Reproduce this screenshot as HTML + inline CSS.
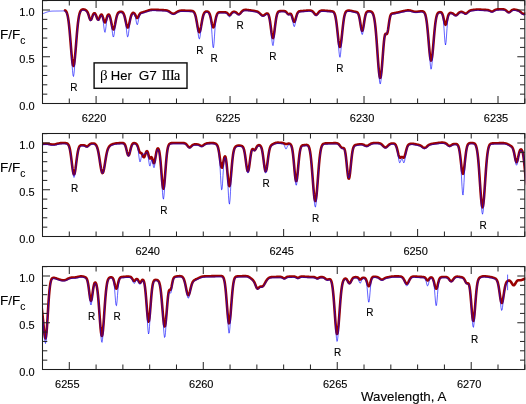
<!DOCTYPE html>
<html><head><meta charset="utf-8"><style>
html,body{margin:0;padding:0;background:#fff;}
body{width:526px;height:404px;overflow:hidden;}
svg{display:block;}
svg text{-webkit-font-smoothing:antialiased;stroke:#000;stroke-width:0.12px;}
.wrap{opacity:0.999;will-change:transform;}
</style></head><body><div class="wrap">
<svg width="526" height="404" viewBox="0 0 526 404" font-family='"Liberation Sans", sans-serif'>
<rect width="526" height="404" fill="#fff"/>
<defs>
<clipPath id="c0"><rect x="42.5" y="0" width="482.80" height="104"/></clipPath>
<clipPath id="c1"><rect x="42.5" y="133" width="482.80" height="104"/></clipPath>
<clipPath id="c2"><rect x="42.5" y="266" width="482.80" height="104"/></clipPath>
</defs>
<g clip-path="url(#c0)" fill="none" stroke-linejoin="round" stroke-linecap="round">
<path d="M65.00,10.38 L65.50,10.70 L66.00,11.22 L66.50,12.04 L67.00,13.27 L67.50,15.03 L68.00,17.46 L68.50,20.68 L69.00,24.74 L69.50,29.64 L70.00,35.27 L70.50,41.40 L71.00,47.69 L71.50,53.70 L72.00,58.96 L72.50,62.98 L73.00,65.40 L73.50,65.96 L74.00,64.61 L74.50,61.48 L75.00,56.89 L75.50,51.24 L76.00,45.03 L76.50,38.73 L77.00,32.73 L77.50,27.33 L78.00,22.73 L78.50,18.97 L79.00,16.03 L79.50,13.83 L80.00,12.24 L80.50,11.13 L81.00,10.39 L81.50,9.91 L82.00,9.62 L82.50,9.46 L83.00,9.40 L83.50,9.41 L84.00,9.49 L84.50,9.62 L85.00,9.80 L85.50,10.03 L86.00,10.33 L86.50,10.74 L87.00,11.31 L87.50,12.14 L88.00,13.28 L88.50,14.73 L89.00,16.40 L89.50,18.04 L90.00,19.33 L90.50,19.97 L91.00,19.82 L91.50,18.95 L92.00,17.61 L92.50,16.14 L93.00,14.83 L93.50,13.87 L94.00,13.32 L94.50,13.20 L95.00,13.48 L95.50,14.18 L96.00,15.24 L96.50,16.57 L97.00,17.95 L97.50,19.10 L98.00,19.73 L98.50,19.69 L99.00,18.98 L99.50,17.83 L100.00,16.54 L100.50,15.41 L101.00,14.69 L101.50,14.52 L102.00,14.97 L102.50,16.03 L103.00,17.58 L103.50,19.37 L104.00,21.04 L104.50,22.18 L105.00,22.49 L105.50,21.87 L106.00,20.52 L106.50,18.79 L107.00,17.08 L107.50,15.69 L108.00,14.81 L108.50,14.50 L109.00,14.74 L109.50,15.54 L110.00,16.89 L110.50,18.75 L111.00,21.03 L111.50,23.53 L112.00,25.96 L112.50,27.96 L113.00,29.21 L113.50,29.47 L114.00,28.68 L114.50,26.98 L115.00,24.66 L115.50,22.05 L116.00,19.49 L116.50,17.24 L117.00,15.44 L117.50,14.09 L118.00,13.17 L118.50,12.57 L119.00,12.20 L119.50,11.99 L120.00,11.87 L120.50,11.81 L121.00,11.81 L121.50,11.86 L122.00,12.00 L122.50,12.26 L123.00,12.73 L123.50,13.48 L124.00,14.60 L124.50,16.15 L125.00,18.11 L125.50,20.39 L126.00,22.77 L126.50,24.96 L127.00,26.63 L127.50,27.51 L128.00,27.44 L128.50,26.45 L129.00,24.70 L129.50,22.51 L130.00,20.18 L130.50,18.02 L131.00,16.19 L131.50,14.79 L132.00,13.81 L132.50,13.20 L133.00,12.90 L133.50,12.85 L134.00,13.07 L134.50,13.56 L135.00,14.36 L135.50,15.39 L136.00,16.52 L136.50,17.48 L137.00,18.04 L137.50,18.01 L138.00,17.43 L138.50,16.48 L139.00,15.40 L139.50,14.44 L140.00,13.70 L140.50,13.20 L141.00,12.88 L141.50,12.68 L142.00,12.52 L142.50,12.39 L143.00,12.25 L143.50,12.11 L144.00,11.96 L144.50,11.80 L145.00,11.63 L145.50,11.47 L146.00,11.30 L146.50,11.13 L147.00,10.97 L147.50,10.80 L148.00,10.64 L148.50,10.49 L149.00,10.34 L149.50,10.21 L150.00,10.09 L150.50,9.99 L151.00,9.90 L151.50,9.84 L152.00,9.79 L152.50,9.76 L153.00,9.75 L153.50,9.75 L154.00,9.75 L154.50,9.76 L155.00,9.78 L155.50,9.80 L156.00,9.82 L156.50,9.84 L157.00,9.86 L157.50,9.88 L158.00,9.90 L158.50,9.92 L159.00,9.94 L159.50,9.96 L160.00,9.99 L160.50,10.01 L161.00,10.03 L161.50,10.05 L162.00,10.07 L162.50,10.10 L163.00,10.12 L163.50,10.15 L164.00,10.18 L164.50,10.21 L165.00,10.25 L165.50,10.31 L166.00,10.38 L166.50,10.48 L167.00,10.60 L167.50,10.76 L168.00,10.96 L168.50,11.20 L169.00,11.47 L169.50,11.78 L170.00,12.12 L170.50,12.47 L171.00,12.81 L171.50,13.11 L172.00,13.38 L172.50,13.57 L173.00,13.68 L173.50,13.70 L174.00,13.62 L174.50,13.47 L175.00,13.24 L175.50,12.96 L176.00,12.64 L176.50,12.32 L177.00,12.00 L177.50,11.70 L178.00,11.44 L178.50,11.22 L179.00,11.03 L179.50,10.89 L180.00,10.79 L180.50,10.71 L181.00,10.66 L181.50,10.63 L182.00,10.62 L182.50,10.61 L183.00,10.62 L183.50,10.63 L184.00,10.64 L184.50,10.65 L185.00,10.67 L185.50,10.68 L186.00,10.70 L186.50,10.72 L187.00,10.73 L187.50,10.75 L188.00,10.77 L188.50,10.78 L189.00,10.80 L189.50,10.82 L190.00,10.84 L190.50,10.86 L191.00,10.88 L191.50,10.92 L192.00,10.99 L192.50,11.09 L193.00,11.28 L193.50,11.60 L194.00,12.13 L194.50,12.94 L195.00,14.13 L195.50,15.78 L196.00,17.90 L196.50,20.46 L197.00,23.32 L197.50,26.22 L198.00,28.87 L198.50,30.92 L199.00,32.09 L199.50,32.22 L200.00,31.28 L200.50,29.42 L201.00,26.90 L201.50,24.05 L202.00,21.20 L202.50,18.60 L203.00,16.41 L203.50,14.70 L204.00,13.46 L204.50,12.62 L205.00,12.08 L205.50,11.76 L206.00,11.60 L206.50,11.53 L207.00,11.54 L207.50,11.63 L208.00,11.81 L208.50,12.16 L209.00,12.75 L209.50,13.69 L210.00,15.06 L210.50,16.90 L211.00,19.16 L211.50,21.65 L212.00,24.06 L212.50,26.02 L213.00,27.19 L213.50,27.33 L214.00,26.43 L214.50,24.68 L215.00,22.39 L215.50,19.96 L216.00,17.71 L216.50,15.84 L217.00,14.44 L217.50,13.48 L218.00,12.88 L218.50,12.54 L219.00,12.36 L219.50,12.27 L220.00,12.24 L220.50,12.23 L221.00,12.23 L221.50,12.23 L222.00,12.24 L222.50,12.24 L223.00,12.25 L223.50,12.25 L224.00,12.26 L224.50,12.27 L225.00,12.29 L225.50,12.34 L226.00,12.43 L226.50,12.62 L227.00,12.93 L227.50,13.39 L228.00,13.96 L228.50,14.55 L229.00,15.01 L229.50,15.20 L230.00,15.06 L230.50,14.60 L231.00,13.97 L231.50,13.30 L232.00,12.72 L232.50,12.29 L233.00,12.01 L233.50,11.86 L234.00,11.81 L234.50,11.84 L235.00,11.96 L235.50,12.17 L236.00,12.47 L236.50,12.85 L237.00,13.29 L237.50,13.72 L238.00,14.08 L238.50,14.29 L239.00,14.30 L239.50,14.09 L240.00,13.69 L240.50,13.15 L241.00,12.53 L241.50,11.92 L242.00,11.36 L242.50,10.89 L243.00,10.53 L243.50,10.27 L244.00,10.09 L244.50,9.98 L245.00,9.91 L245.50,9.89 L246.00,9.89 L246.50,9.91 L247.00,9.95 L247.50,10.00 L248.00,10.06 L248.50,10.12 L249.00,10.19 L249.50,10.26 L250.00,10.33 L250.50,10.40 L251.00,10.47 L251.50,10.55 L252.00,10.62 L252.50,10.69 L253.00,10.76 L253.50,10.84 L254.00,10.91 L254.50,10.99 L255.00,11.07 L255.50,11.16 L256.00,11.27 L256.50,11.40 L257.00,11.55 L257.50,11.75 L258.00,12.00 L258.50,12.32 L259.00,12.69 L259.50,13.12 L260.00,13.60 L260.50,14.09 L261.00,14.57 L261.50,15.00 L262.00,15.33 L262.50,15.54 L263.00,15.61 L263.50,15.53 L264.00,15.33 L264.50,15.02 L265.00,14.64 L265.50,14.25 L266.00,13.88 L266.50,13.58 L267.00,13.43 L267.50,13.50 L268.00,13.89 L268.50,14.74 L269.00,16.20 L269.50,18.36 L270.00,21.28 L270.50,24.82 L271.00,28.72 L271.50,32.51 L272.00,35.65 L272.50,37.62 L273.00,38.06 L273.50,36.88 L274.00,34.29 L274.50,30.71 L275.00,26.71 L275.50,22.79 L276.00,19.34 L276.50,16.58 L277.00,14.53 L277.50,13.13 L278.00,12.24 L278.50,11.70 L279.00,11.40 L279.50,11.23 L280.00,11.14 L280.50,11.09 L281.00,11.06 L281.50,11.05 L282.00,11.04 L282.50,11.04 L283.00,11.04 L283.50,11.05 L284.00,11.08 L284.50,11.14 L285.00,11.26 L285.50,11.48 L286.00,11.84 L286.50,12.36 L287.00,12.98 L287.50,13.60 L288.00,14.08 L288.50,14.30 L289.00,14.23 L289.50,13.97 L290.00,13.71 L290.50,13.70 L291.00,14.11 L291.50,15.03 L292.00,16.42 L292.50,18.10 L293.00,19.78 L293.50,21.12 L294.00,21.83 L294.50,21.75 L295.00,20.89 L295.50,19.44 L296.00,17.68 L296.50,15.92 L297.00,14.37 L297.50,13.17 L298.00,12.32 L298.50,11.78 L299.00,11.46 L299.50,11.28 L300.00,11.18 L300.50,11.12 L301.00,11.08 L301.50,11.05 L302.00,11.01 L302.50,10.97 L303.00,10.93 L303.50,10.89 L304.00,10.85 L304.50,10.81 L305.00,10.77 L305.50,10.73 L306.00,10.69 L306.50,10.65 L307.00,10.62 L307.50,10.59 L308.00,10.57 L308.50,10.55 L309.00,10.54 L309.50,10.54 L310.00,10.56 L310.50,10.60 L311.00,10.68 L311.50,10.82 L312.00,11.04 L312.50,11.37 L313.00,11.82 L313.50,12.39 L314.00,13.04 L314.50,13.70 L315.00,14.28 L315.50,14.71 L316.00,14.89 L316.50,14.81 L317.00,14.48 L317.50,13.94 L318.00,13.30 L318.50,12.64 L319.00,12.04 L319.50,11.54 L320.00,11.16 L320.50,10.90 L321.00,10.73 L321.50,10.64 L322.00,10.59 L322.50,10.58 L323.00,10.58 L323.50,10.60 L324.00,10.63 L324.50,10.66 L325.00,10.69 L325.50,10.73 L326.00,10.77 L326.50,10.81 L327.00,10.86 L327.50,10.90 L328.00,10.94 L328.50,10.98 L329.00,11.03 L329.50,11.07 L330.00,11.10 L330.50,11.14 L331.00,11.18 L331.50,11.22 L332.00,11.29 L332.50,11.40 L333.00,11.60 L333.50,11.94 L334.00,12.52 L334.50,13.45 L335.00,14.87 L335.50,16.91 L336.00,19.67 L336.50,23.18 L337.00,27.35 L337.50,31.97 L338.00,36.66 L338.50,40.97 L339.00,44.38 L339.50,46.48 L340.00,46.96 L340.50,45.76 L341.00,43.04 L341.50,39.16 L342.00,34.59 L342.50,29.83 L343.00,25.30 L343.50,21.33 L344.00,18.07 L344.50,15.56 L345.00,13.74 L345.50,12.49 L346.00,11.68 L346.50,11.17 L347.00,10.88 L347.50,10.71 L348.00,10.63 L348.50,10.60 L349.00,10.60 L349.50,10.63 L350.00,10.68 L350.50,10.75 L351.00,10.84 L351.50,10.94 L352.00,11.05 L352.50,11.17 L353.00,11.30 L353.50,11.42 L354.00,11.54 L354.50,11.66 L355.00,11.76 L355.50,11.85 L356.00,11.95 L356.50,12.07 L357.00,12.26 L357.50,12.61 L358.00,13.23 L358.50,14.27 L359.00,15.88 L359.50,18.13 L360.00,20.96 L360.50,24.12 L361.00,27.17 L361.50,29.56 L362.00,30.80 L362.50,30.61 L363.00,29.02 L363.50,26.38 L364.00,23.18 L364.50,19.98 L365.00,17.17 L365.50,14.98 L366.00,13.43 L366.50,12.44 L367.00,11.85 L367.50,11.52 L368.00,11.36 L368.50,11.29 L369.00,11.27 L369.50,11.28 L370.00,11.33 L370.50,11.43 L371.00,11.59 L371.50,11.85 L372.00,12.26 L372.50,12.89 L373.00,13.85 L373.50,15.24 L374.00,17.20 L374.50,19.86 L375.00,23.35 L375.50,27.76 L376.00,33.09 L376.50,39.27 L377.00,46.09 L377.50,53.23 L378.00,60.28 L378.50,66.73 L379.00,72.09 L379.50,75.90 L380.00,77.81 L380.50,77.66 L381.00,75.46 L381.50,71.45 L382.00,66.00 L382.50,59.64 L383.00,52.98 L383.50,46.63 L384.00,41.20 L384.50,37.15 L385.00,34.72 L385.50,33.78 L386.00,33.85 L386.50,34.16 L387.00,33.90 L387.50,32.53 L388.00,29.98 L388.50,26.60 L389.00,23.00 L389.50,19.75 L390.00,17.21 L390.50,15.47 L391.00,14.41 L391.50,13.84 L392.00,13.56 L392.50,13.42 L393.00,13.35 L393.50,13.29 L394.00,13.22 L394.50,13.14 L395.00,13.06 L395.50,12.96 L396.00,12.85 L396.50,12.74 L397.00,12.62 L397.50,12.51 L398.00,12.39 L398.50,12.27 L399.00,12.15 L399.50,12.03 L400.00,11.92 L400.50,11.80 L401.00,11.69 L401.50,11.57 L402.00,11.46 L402.50,11.35 L403.00,11.23 L403.50,11.12 L404.00,11.01 L404.50,10.91 L405.00,10.80 L405.50,10.70 L406.00,10.60 L406.50,10.52 L407.00,10.44 L407.50,10.39 L408.00,10.36 L408.50,10.36 L409.00,10.38 L409.50,10.44 L410.00,10.52 L410.50,10.63 L411.00,10.76 L411.50,10.90 L412.00,11.05 L412.50,11.20 L413.00,11.35 L413.50,11.48 L414.00,11.60 L414.50,11.69 L415.00,11.75 L415.50,11.79 L416.00,11.80 L416.50,11.78 L417.00,11.74 L417.50,11.69 L418.00,11.63 L418.50,11.56 L419.00,11.49 L419.50,11.43 L420.00,11.37 L420.50,11.32 L421.00,11.29 L421.50,11.28 L422.00,11.29 L422.50,11.35 L423.00,11.47 L423.50,11.71 L424.00,12.10 L424.50,12.75 L425.00,13.77 L425.50,15.28 L426.00,17.43 L426.50,20.36 L427.00,24.13 L427.50,28.77 L428.00,34.14 L428.50,39.98 L429.00,45.92 L429.50,51.44 L430.00,56.02 L430.50,59.18 L431.00,60.56 L431.50,60.00 L432.00,57.57 L432.50,53.55 L433.00,48.39 L433.50,42.61 L434.00,36.73 L434.50,31.18 L435.00,26.28 L435.50,22.20 L436.00,18.99 L436.50,16.58 L437.00,14.88 L437.50,13.73 L438.00,12.99 L438.50,12.55 L439.00,12.30 L439.50,12.18 L440.00,12.15 L440.50,12.19 L441.00,12.35 L441.50,12.68 L442.00,13.30 L442.50,14.34 L443.00,15.89 L443.50,17.94 L444.00,20.29 L444.50,22.53 L445.00,24.17 L445.50,24.80 L446.00,24.25 L446.50,22.69 L447.00,20.53 L447.50,18.26 L448.00,16.29 L448.50,14.81 L449.00,13.84 L449.50,13.28 L450.00,13.01 L450.50,12.91 L451.00,12.92 L451.50,12.99 L452.00,13.14 L452.50,13.37 L453.00,13.67 L453.50,14.03 L454.00,14.43 L454.50,14.82 L455.00,15.12 L455.50,15.29 L456.00,15.28 L456.50,15.09 L457.00,14.73 L457.50,14.26 L458.00,13.74 L458.50,13.22 L459.00,12.77 L459.50,12.40 L460.00,12.13 L460.50,11.95 L461.00,11.85 L461.50,11.84 L462.00,11.92 L462.50,12.08 L463.00,12.32 L463.50,12.62 L464.00,12.96 L464.50,13.27 L465.00,13.50 L465.50,13.61 L466.00,13.56 L466.50,13.35 L467.00,13.01 L467.50,12.57 L468.00,12.11 L468.50,11.66 L469.00,11.26 L469.50,10.94 L470.00,10.68 L470.50,10.49 L471.00,10.34 L471.50,10.23 L472.00,10.13 L472.50,10.05 L473.00,9.98 L473.50,9.91 L474.00,9.84 L474.50,9.78 L475.00,9.72 L475.50,9.67 L476.00,9.62 L476.50,9.59 L477.00,9.57 L477.50,9.55 L478.00,9.55 L478.50,9.55 L479.00,9.57 L479.50,9.59 L480.00,9.61 L480.50,9.64 L481.00,9.67 L481.50,9.70 L482.00,9.73 L482.50,9.76 L483.00,9.79 L483.50,9.82 L484.00,9.85 L484.50,9.87 L485.00,9.89 L485.50,9.90 L486.00,9.92 L486.50,9.94 L487.00,9.97 L487.50,10.02 L488.00,10.11 L488.50,10.23 L489.00,10.41 L489.50,10.63 L490.00,10.88 L490.50,11.13 L491.00,11.34 L491.50,11.47 L492.00,11.50 L492.50,11.41 L493.00,11.22 L493.50,10.95 L494.00,10.64 L494.50,10.33 L495.00,10.05 L495.50,9.82 L496.00,9.64 L496.50,9.52 L497.00,9.43 L497.50,9.38 L498.00,9.35 L498.50,9.33 L499.00,9.31 L499.50,9.31 L500.00,9.30 L500.50,9.30 L501.00,9.30 L501.50,9.30 L502.00,9.31 L502.50,9.32 L503.00,9.34 L503.50,9.39 L504.00,9.47 L504.50,9.60 L505.00,9.79 L505.50,10.07 L506.00,10.43 L506.50,10.85 L507.00,11.30 L507.50,11.73 L508.00,12.07 L508.50,12.27 L509.00,12.29 L509.50,12.12 L510.00,11.81 L510.50,11.40 L511.00,10.95 L511.50,10.53 L512.00,10.17 L512.50,9.90 L513.00,9.72 L513.50,9.63 L514.00,9.59 L514.50,9.61 L515.00,9.66 L515.50,9.74 L516.00,9.84 L516.50,9.95 L517.00,10.08 L517.50,10.23 L518.00,10.41 L518.50,10.62 L519.00,10.87 L519.50,11.18 L520.00,11.54 L520.50,11.95 L521.00,12.39 L521.50,12.83 L522.00,13.24 L522.50,13.57 L523.00,13.80 L523.50,13.91 L524.00,13.92 L524.50,13.84 L525.00,13.70 L525.50,13.54 L526.00,13.39 L526.50,13.26 L527.00,13.16 L527.50,13.09" stroke="#9a0000" stroke-width="2.6"/>
<path d="M39.50,14.47 L40.00,14.40 L40.50,14.32 L41.00,14.21 L41.50,14.09 L42.00,13.95 L42.50,13.79 L43.00,13.61 L43.50,13.42 L44.00,13.23 L44.50,13.03 L45.00,12.83 L45.50,12.63 L46.00,12.44 L46.50,12.26 L47.00,12.08 L47.50,11.92 L48.00,11.78 L48.50,11.64 L49.00,11.52 L49.50,11.42 L50.00,11.33 L50.50,11.26 L51.00,11.20 L51.50,11.16 L52.00,11.13 L52.50,11.10 L53.00,11.09 L53.50,11.07 L54.00,11.06 L54.50,11.06 L55.00,11.05 L55.50,11.05 L56.00,11.04 L56.50,11.03 L57.00,11.03 L57.50,11.02 L58.00,11.02 L58.50,11.01 L59.00,11.00 L59.50,10.99 L60.00,10.98 L60.50,10.97 L61.00,10.96 L61.50,10.95 L62.00,10.94 L62.50,10.93 L63.00,10.93 L63.50,10.95 L64.00,11.00 L64.50,11.10 L65.00,11.28 L65.50,11.60 L66.00,12.12 L66.50,12.94 L67.00,14.17 L67.50,15.93 L68.00,18.36 L68.50,21.58 L69.00,25.64 L69.50,30.56 L70.00,36.26 L70.50,42.60 L71.00,49.32 L71.50,56.22 L72.00,63.67 L72.50,70.57 L73.00,75.32 L73.50,76.51 L74.00,73.74 L74.50,67.91 L75.00,60.58 L75.50,53.29 L76.00,46.46 L76.50,39.81 L77.00,33.68 L77.50,28.25 L78.00,23.63 L78.50,19.87 L79.00,16.93 L79.50,14.73 L80.00,13.14 L80.50,12.03 L81.00,11.29 L81.50,10.81 L82.00,10.52 L82.50,10.36 L83.00,10.30 L83.50,10.31 L84.00,10.39 L84.50,10.52 L85.00,10.70 L85.50,10.93 L86.00,11.23 L86.50,11.64 L87.00,12.21 L87.50,13.04 L88.00,14.18 L88.50,15.63 L89.00,17.30 L89.50,18.94 L90.00,20.23 L90.50,20.87 L91.00,20.72 L91.50,19.85 L92.00,18.51 L92.50,17.04 L93.00,15.73 L93.50,14.77 L94.00,14.22 L94.50,14.10 L95.00,14.38 L95.50,15.08 L96.00,16.14 L96.50,17.47 L97.00,18.85 L97.50,20.00 L98.00,20.63 L98.50,20.59 L99.00,19.88 L99.50,18.73 L100.00,17.44 L100.50,16.31 L101.00,15.60 L101.50,15.50 L102.00,16.15 L102.50,17.62 L103.00,19.98 L103.50,23.78 L104.00,28.13 L104.50,31.45 L105.00,32.35 L105.50,30.40 L106.00,26.52 L106.50,22.24 L107.00,19.06 L107.50,17.09 L108.00,15.89 L108.50,15.44 L109.00,15.66 L109.50,16.46 L110.00,17.85 L110.50,19.87 L111.00,22.49 L111.50,25.58 L112.00,29.36 L112.50,33.40 L113.00,36.32 L113.50,37.04 L114.00,35.23 L114.50,31.60 L115.00,27.38 L115.50,23.82 L116.00,20.80 L116.50,18.28 L117.00,16.37 L117.50,15.00 L118.00,14.07 L118.50,13.47 L119.00,13.10 L119.50,12.89 L120.00,12.77 L120.50,12.71 L121.00,12.71 L121.50,12.76 L122.00,12.90 L122.50,13.16 L123.00,13.63 L123.50,14.39 L124.00,15.54 L124.50,17.18 L125.00,19.42 L125.50,22.19 L126.00,25.70 L126.50,30.20 L127.00,34.39 L127.50,36.85 L128.00,36.60 L128.50,33.74 L129.00,29.43 L129.50,25.11 L130.00,21.87 L130.50,19.25 L131.00,17.19 L131.50,15.72 L132.00,14.72 L132.50,14.11 L133.00,13.80 L133.50,13.78 L134.00,14.06 L134.50,14.76 L135.00,15.95 L135.50,17.65 L136.00,20.22 L136.50,22.96 L137.00,24.63 L137.50,24.47 L138.00,22.58 L138.50,19.83 L139.00,17.48 L139.50,15.94 L140.00,14.84 L140.50,14.17 L141.00,13.80 L141.50,13.58 L142.00,13.43 L142.50,13.29 L143.00,13.15 L143.50,13.01 L144.00,12.86 L144.50,12.70 L145.00,12.53 L145.50,12.37 L146.00,12.20 L146.50,12.03 L147.00,11.87 L147.50,11.70 L148.00,11.54 L148.50,11.39 L149.00,11.24 L149.50,11.11 L150.00,10.99 L150.50,10.89 L151.00,10.80 L151.50,10.74 L152.00,10.69 L152.50,10.66 L153.00,10.65 L153.50,10.65 L154.00,10.65 L154.50,10.66 L155.00,10.68 L155.50,10.70 L156.00,10.72 L156.50,10.74 L157.00,10.76 L157.50,10.78 L158.00,10.80 L158.50,10.82 L159.00,10.84 L159.50,10.86 L160.00,10.89 L160.50,10.91 L161.00,10.93 L161.50,10.95 L162.00,10.97 L162.50,11.00 L163.00,11.02 L163.50,11.05 L164.00,11.08 L164.50,11.11 L165.00,11.15 L165.50,11.21 L166.00,11.28 L166.50,11.38 L167.00,11.50 L167.50,11.66 L168.00,11.86 L168.50,12.10 L169.00,12.37 L169.50,12.68 L170.00,13.02 L170.50,13.37 L171.00,13.71 L171.50,14.01 L172.00,14.28 L172.50,14.47 L173.00,14.58 L173.50,14.60 L174.00,14.52 L174.50,14.37 L175.00,14.14 L175.50,13.86 L176.00,13.54 L176.50,13.22 L177.00,12.90 L177.50,12.60 L178.00,12.34 L178.50,12.12 L179.00,11.93 L179.50,11.79 L180.00,11.69 L180.50,11.61 L181.00,11.56 L181.50,11.53 L182.00,11.52 L182.50,11.51 L183.00,11.52 L183.50,11.53 L184.00,11.54 L184.50,11.55 L185.00,11.57 L185.50,11.58 L186.00,11.60 L186.50,11.62 L187.00,11.63 L187.50,11.65 L188.00,11.67 L188.50,11.68 L189.00,11.70 L189.50,11.72 L190.00,11.74 L190.50,11.76 L191.00,11.78 L191.50,11.82 L192.00,11.89 L192.50,11.99 L193.00,12.18 L193.50,12.50 L194.00,13.03 L194.50,13.84 L195.00,15.04 L195.50,16.69 L196.00,18.88 L196.50,21.61 L197.00,24.82 L197.50,28.32 L198.00,32.27 L198.50,36.14 L199.00,38.65 L199.50,38.91 L200.00,36.83 L200.50,33.17 L201.00,29.17 L201.50,25.65 L202.00,22.40 L202.50,19.59 L203.00,17.33 L203.50,15.61 L204.00,14.36 L204.50,13.52 L205.00,12.98 L205.50,12.66 L206.00,12.50 L206.50,12.43 L207.00,12.44 L207.50,12.53 L208.00,12.71 L208.50,13.06 L209.00,13.66 L209.50,14.64 L210.00,16.18 L210.50,18.44 L211.00,21.64 L211.50,27.10 L212.00,34.41 L212.50,41.99 L213.00,47.23 L213.50,47.79 L214.00,43.42 L214.50,36.15 L215.00,28.69 L215.50,22.84 L216.00,19.36 L216.50,17.01 L217.00,15.41 L217.50,14.39 L218.00,13.78 L218.50,13.44 L219.00,13.26 L219.50,13.17 L220.00,13.14 L220.50,13.13 L221.00,13.13 L221.50,13.13 L222.00,13.14 L222.50,13.14 L223.00,13.15 L223.50,13.15 L224.00,13.16 L224.50,13.17 L225.00,13.19 L225.50,13.24 L226.00,13.34 L226.50,13.54 L227.00,13.89 L227.50,14.45 L228.00,15.17 L228.50,15.95 L229.00,16.57 L229.50,16.84 L230.00,16.66 L230.50,16.08 L231.00,15.26 L231.50,14.41 L232.00,13.71 L232.50,13.22 L233.00,12.92 L233.50,12.76 L234.00,12.71 L234.50,12.74 L235.00,12.86 L235.50,13.07 L236.00,13.37 L236.50,13.75 L237.00,14.19 L237.50,14.62 L238.00,14.98 L238.50,15.19 L239.00,15.20 L239.50,14.99 L240.00,14.59 L240.50,14.05 L241.00,13.43 L241.50,12.82 L242.00,12.26 L242.50,11.79 L243.00,11.43 L243.50,11.17 L244.00,10.99 L244.50,10.88 L245.00,10.81 L245.50,10.79 L246.00,10.79 L246.50,10.81 L247.00,10.85 L247.50,10.90 L248.00,10.96 L248.50,11.02 L249.00,11.09 L249.50,11.16 L250.00,11.23 L250.50,11.30 L251.00,11.37 L251.50,11.45 L252.00,11.52 L252.50,11.59 L253.00,11.66 L253.50,11.74 L254.00,11.81 L254.50,11.89 L255.00,11.97 L255.50,12.06 L256.00,12.17 L256.50,12.30 L257.00,12.45 L257.50,12.65 L258.00,12.90 L258.50,13.22 L259.00,13.59 L259.50,14.02 L260.00,14.50 L260.50,14.99 L261.00,15.47 L261.50,15.90 L262.00,16.23 L262.50,16.44 L263.00,16.51 L263.50,16.43 L264.00,16.23 L264.50,15.92 L265.00,15.54 L265.50,15.15 L266.00,14.78 L266.50,14.48 L267.00,14.33 L267.50,14.40 L268.00,14.79 L268.50,15.64 L269.00,17.11 L269.50,19.33 L270.00,22.39 L270.50,26.29 L271.00,30.77 L271.50,35.91 L272.00,41.09 L272.50,44.73 L273.00,45.63 L273.50,43.43 L274.00,38.90 L274.50,33.44 L275.00,28.48 L275.50,24.09 L276.00,20.38 L276.50,17.51 L277.00,15.44 L277.50,14.04 L278.00,13.14 L278.50,12.60 L279.00,12.30 L279.50,12.13 L280.00,12.04 L280.50,11.99 L281.00,11.96 L281.50,11.95 L282.00,11.94 L282.50,11.94 L283.00,11.94 L283.50,11.95 L284.00,11.98 L284.50,12.04 L285.00,12.16 L285.50,12.38 L286.00,12.74 L286.50,13.26 L287.00,13.88 L287.50,14.50 L288.00,14.98 L288.50,15.20 L289.00,15.13 L289.50,14.87 L290.00,14.62 L290.50,14.61 L291.00,15.08 L291.50,16.15 L292.00,17.85 L292.50,20.00 L293.00,22.51 L293.50,25.05 L294.00,26.56 L294.50,26.38 L295.00,24.59 L295.50,21.96 L296.00,19.47 L296.50,17.27 L297.00,15.45 L297.50,14.12 L298.00,13.23 L298.50,12.68 L299.00,12.36 L299.50,12.18 L300.00,12.08 L300.50,12.02 L301.00,11.98 L301.50,11.95 L302.00,11.91 L302.50,11.87 L303.00,11.83 L303.50,11.79 L304.00,11.75 L304.50,11.71 L305.00,11.67 L305.50,11.63 L306.00,11.59 L306.50,11.55 L307.00,11.52 L307.50,11.49 L308.00,11.47 L308.50,11.45 L309.00,11.44 L309.50,11.44 L310.00,11.46 L310.50,11.50 L311.00,11.58 L311.50,11.72 L312.00,11.94 L312.50,12.27 L313.00,12.72 L313.50,13.29 L314.00,13.94 L314.50,14.60 L315.00,15.18 L315.50,15.61 L316.00,15.79 L316.50,15.71 L317.00,15.38 L317.50,14.84 L318.00,14.20 L318.50,13.54 L319.00,12.94 L319.50,12.44 L320.00,12.06 L320.50,11.80 L321.00,11.63 L321.50,11.54 L322.00,11.49 L322.50,11.48 L323.00,11.48 L323.50,11.50 L324.00,11.53 L324.50,11.56 L325.00,11.59 L325.50,11.63 L326.00,11.67 L326.50,11.71 L327.00,11.76 L327.50,11.80 L328.00,11.84 L328.50,11.88 L329.00,11.93 L329.50,11.97 L330.00,12.00 L330.50,12.04 L331.00,12.08 L331.50,12.12 L332.00,12.19 L332.50,12.30 L333.00,12.50 L333.50,12.84 L334.00,13.42 L334.50,14.35 L335.00,15.77 L335.50,17.82 L336.00,20.59 L336.50,24.16 L337.00,28.54 L337.50,33.59 L338.00,39.15 L338.50,45.59 L339.00,51.83 L339.50,56.21 L340.00,57.32 L340.50,54.72 L341.00,49.35 L341.50,42.79 L342.00,36.62 L342.50,31.25 L343.00,26.39 L343.50,22.28 L344.00,18.98 L344.50,16.46 L345.00,14.64 L345.50,13.39 L346.00,12.58 L346.50,12.07 L347.00,11.78 L347.50,11.61 L348.00,11.53 L348.50,11.50 L349.00,11.50 L349.50,11.53 L350.00,11.58 L350.50,11.65 L351.00,11.74 L351.50,11.84 L352.00,11.95 L352.50,12.07 L353.00,12.20 L353.50,12.32 L354.00,12.44 L354.50,12.56 L355.00,12.66 L355.50,12.75 L356.00,12.85 L356.50,12.97 L357.00,13.16 L357.50,13.51 L358.00,14.13 L358.50,15.19 L359.00,16.84 L359.50,19.21 L360.00,22.30 L360.50,25.85 L361.00,29.47 L361.50,32.70 L362.00,34.54 L362.50,34.28 L363.00,31.99 L363.50,28.54 L364.00,24.83 L364.50,21.25 L365.00,18.22 L365.50,15.92 L366.00,14.34 L366.50,13.34 L367.00,12.75 L367.50,12.42 L368.00,12.26 L368.50,12.19 L369.00,12.17 L369.50,12.18 L370.00,12.23 L370.50,12.33 L371.00,12.49 L371.50,12.75 L372.00,13.16 L372.50,13.79 L373.00,14.75 L373.50,16.14 L374.00,18.10 L374.50,20.76 L375.00,24.25 L375.50,28.66 L376.00,34.00 L376.50,40.19 L377.00,47.07 L377.50,54.41 L378.00,61.83 L378.50,68.89 L379.00,75.53 L379.50,80.96 L380.00,83.91 L380.50,83.63 L381.00,80.22 L381.50,74.57 L382.00,68.00 L382.50,61.11 L383.00,54.10 L383.50,47.59 L384.00,42.09 L384.50,37.98 L385.00,35.40 L385.50,34.17 L386.00,33.74 L386.50,33.48 L387.00,32.86 L387.50,31.54 L388.00,29.41 L388.50,26.60 L389.00,23.46 L389.50,20.47 L390.00,18.05 L390.50,16.35 L391.00,15.31 L391.50,14.74 L392.00,14.46 L392.50,14.32 L393.00,14.25 L393.50,14.19 L394.00,14.12 L394.50,14.04 L395.00,13.96 L395.50,13.86 L396.00,13.75 L396.50,13.64 L397.00,13.52 L397.50,13.41 L398.00,13.29 L398.50,13.17 L399.00,13.05 L399.50,12.93 L400.00,12.82 L400.50,12.70 L401.00,12.59 L401.50,12.47 L402.00,12.36 L402.50,12.25 L403.00,12.13 L403.50,12.02 L404.00,11.91 L404.50,11.81 L405.00,11.70 L405.50,11.60 L406.00,11.50 L406.50,11.42 L407.00,11.34 L407.50,11.29 L408.00,11.26 L408.50,11.26 L409.00,11.28 L409.50,11.34 L410.00,11.42 L410.50,11.53 L411.00,11.66 L411.50,11.80 L412.00,11.95 L412.50,12.10 L413.00,12.25 L413.50,12.38 L414.00,12.50 L414.50,12.59 L415.00,12.65 L415.50,12.69 L416.00,12.70 L416.50,12.68 L417.00,12.64 L417.50,12.59 L418.00,12.53 L418.50,12.46 L419.00,12.39 L419.50,12.33 L420.00,12.27 L420.50,12.22 L421.00,12.19 L421.50,12.18 L422.00,12.19 L422.50,12.25 L423.00,12.37 L423.50,12.61 L424.00,13.00 L424.50,13.65 L425.00,14.67 L425.50,16.18 L426.00,18.33 L426.50,21.26 L427.00,25.04 L427.50,29.71 L428.00,35.19 L428.50,41.34 L429.00,47.79 L429.50,54.50 L430.00,61.30 L430.50,66.68 L431.00,69.22 L431.50,68.14 L432.00,63.79 L432.50,57.43 L433.00,50.60 L433.50,44.14 L434.00,37.87 L434.50,32.15 L435.00,27.19 L435.50,23.10 L436.00,19.89 L436.50,17.48 L437.00,15.78 L437.50,14.63 L438.00,13.89 L438.50,13.45 L439.00,13.20 L439.50,13.08 L440.00,13.05 L440.50,13.09 L441.00,13.25 L441.50,13.61 L442.00,14.32 L442.50,15.66 L443.00,17.83 L443.50,21.82 L444.00,28.26 L444.50,35.89 L445.00,42.39 L445.50,45.00 L446.00,42.47 L446.50,36.05 L447.00,28.50 L447.50,22.14 L448.00,18.23 L448.50,16.13 L449.00,14.86 L449.50,14.21 L450.00,13.92 L450.50,13.81 L451.00,13.82 L451.50,13.89 L452.00,14.04 L452.50,14.27 L453.00,14.57 L453.50,14.93 L454.00,15.33 L454.50,15.72 L455.00,16.02 L455.50,16.19 L456.00,16.18 L456.50,15.99 L457.00,15.63 L457.50,15.16 L458.00,14.64 L458.50,14.12 L459.00,13.67 L459.50,13.30 L460.00,13.03 L460.50,12.85 L461.00,12.75 L461.50,12.74 L462.00,12.82 L462.50,12.98 L463.00,13.22 L463.50,13.52 L464.00,13.86 L464.50,14.17 L465.00,14.40 L465.50,14.51 L466.00,14.46 L466.50,14.25 L467.00,13.91 L467.50,13.47 L468.00,13.01 L468.50,12.56 L469.00,12.16 L469.50,11.84 L470.00,11.58 L470.50,11.39 L471.00,11.24 L471.50,11.13 L472.00,11.03 L472.50,10.95 L473.00,10.88 L473.50,10.81 L474.00,10.74 L474.50,10.68 L475.00,10.62 L475.50,10.57 L476.00,10.52 L476.50,10.49 L477.00,10.47 L477.50,10.45 L478.00,10.45 L478.50,10.45 L479.00,10.47 L479.50,10.49 L480.00,10.51 L480.50,10.54 L481.00,10.57 L481.50,10.60 L482.00,10.63 L482.50,10.66 L483.00,10.69 L483.50,10.72 L484.00,10.75 L484.50,10.77 L485.00,10.79 L485.50,10.80 L486.00,10.82 L486.50,10.84 L487.00,10.87 L487.50,10.92 L488.00,11.01 L488.50,11.13 L489.00,11.31 L489.50,11.53 L490.00,11.78 L490.50,12.03 L491.00,12.24 L491.50,12.37 L492.00,12.40 L492.50,12.31 L493.00,12.12 L493.50,11.85 L494.00,11.54 L494.50,11.23 L495.00,10.95 L495.50,10.72 L496.00,10.54 L496.50,10.42 L497.00,10.33 L497.50,10.28 L498.00,10.25 L498.50,10.23 L499.00,10.21 L499.50,10.21 L500.00,10.20 L500.50,10.20 L501.00,10.20 L501.50,10.20 L502.00,10.21 L502.50,10.22 L503.00,10.24 L503.50,10.29 L504.00,10.37 L504.50,10.50 L505.00,10.69 L505.50,10.97 L506.00,11.33 L506.50,11.75 L507.00,12.20 L507.50,12.63 L508.00,12.97 L508.50,13.17 L509.00,13.19 L509.50,13.02 L510.00,12.71 L510.50,12.30 L511.00,11.85 L511.50,11.43 L512.00,11.07 L512.50,10.80 L513.00,10.62 L513.50,10.53 L514.00,10.49 L514.50,10.51 L515.00,10.56 L515.50,10.64 L516.00,10.74 L516.50,10.85 L517.00,10.98 L517.50,11.13 L518.00,11.31 L518.50,11.52 L519.00,11.77 L519.50,12.08 L520.00,12.44 L520.50,12.85 L521.00,13.29 L521.50,13.73 L522.00,14.14 L522.50,14.47 L523.00,14.70 L523.50,14.81 L524.00,14.82 L524.50,14.74 L525.00,14.60 L525.50,14.44 L526.00,14.29 L526.50,14.16 L527.00,14.06 L527.50,13.99" stroke="#0000ff" stroke-width="1.0" opacity="0.62"/>
</g>
<rect x="42.5" y="0.5" width="482.30" height="103" fill="none" stroke="#1c1c1c" stroke-width="1.05"/>
<path d="M42.50,103.5v-5M42.50,0.5v5M69.29,103.5v-5M69.29,0.5v5M96.09,103.5v-7.5M96.09,0.5v7.5M122.88,103.5v-5M122.88,0.5v5M149.68,103.5v-5M149.68,0.5v5M176.47,103.5v-5M176.47,0.5v5M203.27,103.5v-5M203.27,0.5v5M230.06,103.5v-7.5M230.06,0.5v7.5M256.86,103.5v-5M256.86,0.5v5M283.65,103.5v-5M283.65,0.5v5M310.44,103.5v-5M310.44,0.5v5M337.24,103.5v-5M337.24,0.5v5M364.03,103.5v-7.5M364.03,0.5v7.5M390.83,103.5v-5M390.83,0.5v5M417.62,103.5v-5M417.62,0.5v5M444.42,103.5v-5M444.42,0.5v5M471.21,103.5v-5M471.21,0.5v5M498.01,103.5v-7.5M498.01,0.5v7.5M524.80,103.5v-5M524.80,0.5v5M42.5,103.50h7.5M524.80,103.50h-7.5M42.5,94.15h4.8M524.80,94.15h-4.8M42.5,84.80h4.8M524.80,84.80h-4.8M42.5,75.45h4.8M524.80,75.45h-4.8M42.5,66.10h4.8M524.80,66.10h-4.8M42.5,56.75h7.5M524.80,56.75h-7.5M42.5,47.40h4.8M524.80,47.40h-4.8M42.5,38.05h4.8M524.80,38.05h-4.8M42.5,28.70h4.8M524.80,28.70h-4.8M42.5,19.35h4.8M524.80,19.35h-4.8M42.5,10.00h7.5M524.80,10.00h-7.5M42.5,0.65h4.8M524.80,0.65h-4.8" stroke="#222" stroke-width="1" fill="none"/>
<text x="34.6" y="16.20" text-anchor="end" font-size="11">1.0</text>
<text x="34.6" y="62.95" text-anchor="end" font-size="11">0.5</text>
<text x="34.6" y="109.70" text-anchor="end" font-size="11">0.0</text>
<text x="94.09" y="121.80" text-anchor="middle" font-size="11">6220</text>
<text x="228.06" y="121.80" text-anchor="middle" font-size="11">6225</text>
<text x="362.03" y="121.80" text-anchor="middle" font-size="11">6230</text>
<text x="496.01" y="121.80" text-anchor="middle" font-size="11">6235</text>
<text x="0" y="38.70" font-size="13.6">F/F</text>
<text x="20.2" y="43.60" font-size="10.2">c</text>
<text x="73.9" y="90.8" text-anchor="middle" font-size="10">R</text>
<text x="199.9" y="53.8" text-anchor="middle" font-size="10">R</text>
<text x="214.0" y="62.1" text-anchor="middle" font-size="10">R</text>
<text x="240.1" y="28.8" text-anchor="middle" font-size="10">R</text>
<text x="272.9" y="59.5" text-anchor="middle" font-size="10">R</text>
<text x="339.9" y="71.5" text-anchor="middle" font-size="10">R</text>
<g clip-path="url(#c1)" fill="none" stroke-linejoin="round" stroke-linecap="round">
<path d="M39.50,143.99 L40.00,143.98 L40.50,143.97 L41.00,143.95 L41.50,143.93 L42.00,143.91 L42.50,143.87 L43.00,143.84 L43.50,143.80 L44.00,143.76 L44.50,143.73 L45.00,143.70 L45.50,143.68 L46.00,143.67 L46.50,143.68 L47.00,143.71 L47.50,143.75 L48.00,143.82 L48.50,143.90 L49.00,143.99 L49.50,144.09 L50.00,144.19 L50.50,144.29 L51.00,144.38 L51.50,144.46 L52.00,144.52 L52.50,144.55 L53.00,144.56 L53.50,144.54 L54.00,144.50 L54.50,144.43 L55.00,144.34 L55.50,144.23 L56.00,144.12 L56.50,143.99 L57.00,143.86 L57.50,143.74 L58.00,143.62 L58.50,143.50 L59.00,143.40 L59.50,143.31 L60.00,143.23 L60.50,143.16 L61.00,143.11 L61.50,143.08 L62.00,143.05 L62.50,143.03 L63.00,143.02 L63.50,143.02 L64.00,143.03 L64.50,143.04 L65.00,143.07 L65.50,143.11 L66.00,143.17 L66.50,143.27 L67.00,143.44 L67.50,143.72 L68.00,144.18 L68.50,144.90 L69.00,146.01 L69.50,147.61 L70.00,149.83 L70.50,152.70 L71.00,156.20 L71.50,160.16 L72.00,164.31 L72.50,168.24 L73.00,171.50 L73.50,173.69 L74.00,174.50 L74.50,173.83 L75.00,171.79 L75.50,168.67 L76.00,164.88 L76.50,160.87 L77.00,157.05 L77.50,153.69 L78.00,150.96 L78.50,148.89 L79.00,147.42 L79.50,146.45 L80.00,145.85 L80.50,145.51 L81.00,145.34 L81.50,145.26 L82.00,145.24 L82.50,145.24 L83.00,145.26 L83.50,145.30 L84.00,145.38 L84.50,145.51 L85.00,145.72 L85.50,145.98 L86.00,146.26 L86.50,146.48 L87.00,146.53 L87.50,146.39 L88.00,146.04 L88.50,145.56 L89.00,145.05 L89.50,144.58 L90.00,144.20 L90.50,143.92 L91.00,143.72 L91.50,143.59 L92.00,143.50 L92.50,143.46 L93.00,143.45 L93.50,143.49 L94.00,143.59 L94.50,143.75 L95.00,144.01 L95.50,144.41 L96.00,144.99 L96.50,145.81 L97.00,146.95 L97.50,148.48 L98.00,150.44 L98.50,152.86 L99.00,155.71 L99.50,158.89 L100.00,162.24 L100.50,165.54 L101.00,168.52 L101.50,170.92 L102.00,172.49 L102.50,173.10 L103.00,172.67 L103.50,171.27 L104.00,169.06 L104.50,166.25 L105.00,163.13 L105.50,159.94 L106.00,156.93 L106.50,154.25 L107.00,152.00 L107.50,150.18 L108.00,148.77 L108.50,147.69 L109.00,146.85 L109.50,146.19 L110.00,145.67 L110.50,145.25 L111.00,144.92 L111.50,144.65 L112.00,144.42 L112.50,144.23 L113.00,144.06 L113.50,143.91 L114.00,143.78 L114.50,143.66 L115.00,143.56 L115.50,143.48 L116.00,143.41 L116.50,143.36 L117.00,143.31 L117.50,143.26 L118.00,143.22 L118.50,143.19 L119.00,143.15 L119.50,143.12 L120.00,143.09 L120.50,143.07 L121.00,143.05 L121.50,143.03 L122.00,143.03 L122.50,143.04 L123.00,143.10 L123.50,143.24 L124.00,143.52 L124.50,144.02 L125.00,144.85 L125.50,146.08 L126.00,147.74 L126.50,149.72 L127.00,151.82 L127.50,153.71 L128.00,155.03 L128.50,155.50 L129.00,155.02 L129.50,153.68 L130.00,151.78 L130.50,149.67 L131.00,147.67 L131.50,146.01 L132.00,144.78 L132.50,143.95 L133.00,143.47 L133.50,143.22 L134.00,143.14 L134.50,143.17 L135.00,143.27 L135.50,143.45 L136.00,143.72 L136.50,144.15 L137.00,144.80 L137.50,145.79 L138.00,147.14 L138.50,148.76 L139.00,150.42 L139.50,151.79 L140.00,152.62 L140.50,152.94 L141.00,153.02 L141.50,153.26 L142.00,153.95 L142.50,155.05 L143.00,156.25 L143.50,157.11 L144.00,157.27 L144.50,156.61 L145.00,155.33 L145.50,153.76 L146.00,152.32 L146.50,151.35 L147.00,151.11 L147.50,151.70 L148.00,153.07 L148.50,154.95 L149.00,156.82 L149.50,158.14 L150.00,158.55 L150.50,158.15 L151.00,157.47 L151.50,157.20 L152.00,157.83 L152.50,159.34 L153.00,161.23 L153.50,162.74 L154.00,163.20 L154.50,162.27 L155.00,160.11 L155.50,157.21 L156.00,154.20 L156.50,151.61 L157.00,149.72 L157.50,148.65 L158.00,148.37 L158.50,148.90 L159.00,150.32 L159.50,152.76 L160.00,156.36 L160.50,161.17 L161.00,167.00 L161.50,173.39 L162.00,179.60 L162.50,184.73 L163.00,187.93 L163.50,188.62 L164.00,186.66 L164.50,182.37 L165.00,176.46 L165.50,169.83 L166.00,163.33 L166.50,157.59 L167.00,152.96 L167.50,149.51 L168.00,147.10 L168.50,145.52 L169.00,144.54 L169.50,143.94 L170.00,143.58 L170.50,143.36 L171.00,143.23 L171.50,143.14 L172.00,143.09 L172.50,143.05 L173.00,143.03 L173.50,143.02 L174.00,143.01 L174.50,143.00 L175.00,143.00 L175.50,143.00 L176.00,143.00 L176.50,143.00 L177.00,143.00 L177.50,143.00 L178.00,143.00 L178.50,143.00 L179.00,143.00 L179.50,143.00 L180.00,143.00 L180.50,143.00 L181.00,143.00 L181.50,143.00 L182.00,143.00 L182.50,143.01 L183.00,143.03 L183.50,143.06 L184.00,143.11 L184.50,143.21 L185.00,143.38 L185.50,143.64 L186.00,144.00 L186.50,144.48 L187.00,145.06 L187.50,145.70 L188.00,146.34 L188.50,146.88 L189.00,147.26 L189.50,147.41 L190.00,147.33 L190.50,147.04 L191.00,146.60 L191.50,146.10 L192.00,145.61 L192.50,145.19 L193.00,144.86 L193.50,144.63 L194.00,144.48 L194.50,144.40 L195.00,144.36 L195.50,144.34 L196.00,144.34 L196.50,144.35 L197.00,144.38 L197.50,144.44 L198.00,144.54 L198.50,144.70 L199.00,144.91 L199.50,145.17 L200.00,145.45 L200.50,145.71 L201.00,145.91 L201.50,146.01 L202.00,145.97 L202.50,145.80 L203.00,145.52 L203.50,145.17 L204.00,144.79 L204.50,144.43 L205.00,144.11 L205.50,143.84 L206.00,143.64 L206.50,143.49 L207.00,143.38 L207.50,143.30 L208.00,143.23 L208.50,143.18 L209.00,143.14 L209.50,143.11 L210.00,143.08 L210.50,143.06 L211.00,143.05 L211.50,143.04 L212.00,143.04 L212.50,143.06 L213.00,143.09 L213.50,143.14 L214.00,143.21 L214.50,143.32 L215.00,143.47 L215.50,143.67 L216.00,143.96 L216.50,144.38 L217.00,145.01 L217.50,145.96 L218.00,147.40 L218.50,149.44 L219.00,152.18 L219.50,155.53 L220.00,159.24 L220.50,162.83 L221.00,165.73 L221.50,167.43 L222.00,167.64 L222.50,166.41 L223.00,164.11 L223.50,161.34 L224.00,158.76 L224.50,156.93 L225.00,156.29 L225.50,157.06 L226.00,159.32 L226.50,162.99 L227.00,167.77 L227.50,173.15 L228.00,178.45 L228.50,182.83 L229.00,185.56 L229.50,186.13 L230.00,184.40 L230.50,180.66 L231.00,175.53 L231.50,169.77 L232.00,164.12 L232.50,159.13 L233.00,155.07 L233.50,152.02 L234.00,149.86 L234.50,148.39 L235.00,147.43 L235.50,146.79 L236.00,146.36 L236.50,146.06 L237.00,145.85 L237.50,145.71 L238.00,145.62 L238.50,145.59 L239.00,145.59 L239.50,145.61 L240.00,145.66 L240.50,145.73 L241.00,145.81 L241.50,145.94 L242.00,146.14 L242.50,146.50 L243.00,147.11 L243.50,148.11 L244.00,149.66 L244.50,151.87 L245.00,154.78 L245.50,158.29 L246.00,162.14 L246.50,165.87 L247.00,168.97 L247.50,170.91 L248.00,171.36 L248.50,170.23 L249.00,167.72 L249.50,164.25 L250.00,160.38 L250.50,156.64 L251.00,153.45 L251.50,151.08 L252.00,149.62 L252.50,149.03 L253.00,149.13 L253.50,149.60 L254.00,150.10 L254.50,150.31 L255.00,150.05 L255.50,149.35 L256.00,148.36 L256.50,147.34 L257.00,146.46 L257.50,145.82 L258.00,145.42 L258.50,145.22 L259.00,145.16 L259.50,145.23 L260.00,145.45 L260.50,145.89 L261.00,146.66 L261.50,147.91 L262.00,149.77 L262.50,152.34 L263.00,155.61 L263.50,159.41 L264.00,163.38 L264.50,167.03 L265.00,169.81 L265.50,171.26 L266.00,171.12 L266.50,169.42 L267.00,166.47 L267.50,162.75 L268.00,158.81 L268.50,155.11 L269.00,151.97 L269.50,149.51 L270.00,147.72 L270.50,146.48 L271.00,145.64 L271.50,145.08 L272.00,144.67 L272.50,144.34 L273.00,144.06 L273.50,143.80 L274.00,143.56 L274.50,143.34 L275.00,143.15 L275.50,142.99 L276.00,142.86 L276.50,142.77 L277.00,142.71 L277.50,142.67 L278.00,142.66 L278.50,142.67 L279.00,142.69 L279.50,142.71 L280.00,142.74 L280.50,142.78 L281.00,142.82 L281.50,142.86 L282.00,142.91 L282.50,142.98 L283.00,143.07 L283.50,143.20 L284.00,143.37 L284.50,143.57 L285.00,143.76 L285.50,143.92 L286.00,144.00 L286.50,144.00 L287.00,143.92 L287.50,143.81 L288.00,143.70 L288.50,143.62 L289.00,143.61 L289.50,143.68 L290.00,143.87 L290.50,144.24 L291.00,144.92 L291.50,146.05 L292.00,147.85 L292.50,150.52 L293.00,154.18 L293.50,158.83 L294.00,164.22 L294.50,169.86 L295.00,175.05 L295.50,179.01 L296.00,181.09 L296.50,180.93 L297.00,178.56 L297.50,174.43 L298.00,169.23 L298.50,163.72 L299.00,158.58 L299.50,154.24 L300.00,150.91 L300.50,148.56 L301.00,147.03 L301.50,146.12 L302.00,145.62 L302.50,145.36 L303.00,145.25 L303.50,145.19 L304.00,145.15 L304.50,145.11 L305.00,145.06 L305.50,145.00 L306.00,144.94 L306.50,144.92 L307.00,144.96 L307.50,145.13 L308.00,145.49 L308.50,146.15 L309.00,147.24 L309.50,148.89 L310.00,151.25 L310.50,154.45 L311.00,158.59 L311.50,163.65 L312.00,169.54 L312.50,176.00 L313.00,182.64 L313.50,188.96 L314.00,194.42 L314.50,198.48 L315.00,200.73 L315.50,200.92 L316.00,199.03 L316.50,195.26 L317.00,190.00 L317.50,183.76 L318.00,177.10 L318.50,170.53 L319.00,164.46 L319.50,159.16 L320.00,154.78 L320.50,151.33 L321.00,148.74 L321.50,146.87 L322.00,145.59 L322.50,144.74 L323.00,144.19 L323.50,143.85 L324.00,143.65 L324.50,143.53 L325.00,143.46 L325.50,143.41 L326.00,143.38 L326.50,143.36 L327.00,143.34 L327.50,143.33 L328.00,143.31 L328.50,143.30 L329.00,143.29 L329.50,143.27 L330.00,143.26 L330.50,143.25 L331.00,143.23 L331.50,143.22 L332.00,143.21 L332.50,143.19 L333.00,143.18 L333.50,143.17 L334.00,143.15 L334.50,143.14 L335.00,143.14 L335.50,143.14 L336.00,143.15 L336.50,143.19 L337.00,143.28 L337.50,143.43 L338.00,143.68 L338.50,144.04 L339.00,144.54 L339.50,145.15 L340.00,145.83 L340.50,146.53 L341.00,147.16 L341.50,147.63 L342.00,147.90 L342.50,147.98 L343.00,147.95 L343.50,147.99 L344.00,148.33 L344.50,149.24 L345.00,150.98 L345.50,153.74 L346.00,157.54 L346.50,162.20 L347.00,167.29 L347.50,172.15 L348.00,176.07 L348.50,178.37 L349.00,178.66 L349.50,176.88 L350.00,173.36 L350.50,168.70 L351.00,163.62 L351.50,158.75 L352.00,154.56 L352.50,151.27 L353.00,148.87 L353.50,147.26 L354.00,146.24 L354.50,145.63 L355.00,145.26 L355.50,145.04 L356.00,144.89 L356.50,144.78 L357.00,144.68 L357.50,144.59 L358.00,144.50 L358.50,144.42 L359.00,144.35 L359.50,144.29 L360.00,144.24 L360.50,144.22 L361.00,144.22 L361.50,144.25 L362.00,144.33 L362.50,144.44 L363.00,144.60 L363.50,144.80 L364.00,145.03 L364.50,145.28 L365.00,145.51 L365.50,145.71 L366.00,145.85 L366.50,145.91 L367.00,145.88 L367.50,145.75 L368.00,145.54 L368.50,145.27 L369.00,144.95 L369.50,144.63 L370.00,144.31 L370.50,144.01 L371.00,143.76 L371.50,143.55 L372.00,143.38 L372.50,143.25 L373.00,143.15 L373.50,143.08 L374.00,143.03 L374.50,143.00 L375.00,142.98 L375.50,142.97 L376.00,142.97 L376.50,142.98 L377.00,142.99 L377.50,143.02 L378.00,143.05 L378.50,143.10 L379.00,143.18 L379.50,143.29 L380.00,143.45 L380.50,143.68 L381.00,143.97 L381.50,144.33 L382.00,144.77 L382.50,145.26 L383.00,145.78 L383.50,146.29 L384.00,146.75 L384.50,147.11 L385.00,147.34 L385.50,147.40 L386.00,147.30 L386.50,147.04 L387.00,146.66 L387.50,146.20 L388.00,145.70 L388.50,145.22 L389.00,144.77 L389.50,144.39 L390.00,144.08 L390.50,143.84 L391.00,143.67 L391.50,143.56 L392.00,143.49 L392.50,143.45 L393.00,143.46 L393.50,143.50 L394.00,143.60 L394.50,143.80 L395.00,144.15 L395.50,144.74 L396.00,145.66 L396.50,146.95 L397.00,148.64 L397.50,150.64 L398.00,152.77 L398.50,154.77 L399.00,156.37 L399.50,157.38 L400.00,157.75 L400.50,157.63 L401.00,157.28 L401.50,156.98 L402.00,156.94 L402.50,157.18 L403.00,157.53 L403.50,157.73 L404.00,157.50 L404.50,156.67 L405.00,155.24 L405.50,153.37 L406.00,151.32 L406.50,149.35 L407.00,147.64 L407.50,146.31 L408.00,145.35 L408.50,144.71 L409.00,144.31 L409.50,144.07 L410.00,143.93 L410.50,143.84 L411.00,143.79 L411.50,143.76 L412.00,143.75 L412.50,143.76 L413.00,143.80 L413.50,143.86 L414.00,143.94 L414.50,144.03 L415.00,144.14 L415.50,144.26 L416.00,144.37 L416.50,144.48 L417.00,144.58 L417.50,144.67 L418.00,144.76 L418.50,144.87 L419.00,144.98 L419.50,145.14 L420.00,145.33 L420.50,145.58 L421.00,145.88 L421.50,146.23 L422.00,146.61 L422.50,147.00 L423.00,147.36 L423.50,147.65 L424.00,147.84 L424.50,147.90 L425.00,147.83 L425.50,147.63 L426.00,147.31 L426.50,146.91 L427.00,146.47 L427.50,146.02 L428.00,145.59 L428.50,145.20 L429.00,144.87 L429.50,144.59 L430.00,144.37 L430.50,144.20 L431.00,144.06 L431.50,143.94 L432.00,143.84 L432.50,143.76 L433.00,143.68 L433.50,143.60 L434.00,143.53 L434.50,143.46 L435.00,143.39 L435.50,143.31 L436.00,143.24 L436.50,143.17 L437.00,143.10 L437.50,143.03 L438.00,142.96 L438.50,142.90 L439.00,142.83 L439.50,142.77 L440.00,142.72 L440.50,142.68 L441.00,142.64 L441.50,142.62 L442.00,142.62 L442.50,142.62 L443.00,142.65 L443.50,142.70 L444.00,142.77 L444.50,142.88 L445.00,143.03 L445.50,143.24 L446.00,143.52 L446.50,143.87 L447.00,144.29 L447.50,144.73 L448.00,145.17 L448.50,145.54 L449.00,145.80 L449.50,145.91 L450.00,145.86 L450.50,145.68 L451.00,145.40 L451.50,145.07 L452.00,144.76 L452.50,144.48 L453.00,144.27 L453.50,144.13 L454.00,144.04 L454.50,144.00 L455.00,143.99 L455.50,144.00 L456.00,144.04 L456.50,144.13 L457.00,144.33 L457.50,144.71 L458.00,145.40 L458.50,146.55 L459.00,148.35 L459.50,150.93 L460.00,154.33 L460.50,158.45 L461.00,162.95 L461.50,167.33 L462.00,170.95 L462.50,173.23 L463.00,173.75 L463.50,172.42 L464.00,169.47 L464.50,165.39 L465.00,160.82 L465.50,156.34 L466.00,152.41 L466.50,149.26 L467.00,146.93 L467.50,145.35 L468.00,144.34 L468.50,143.73 L469.00,143.39 L469.50,143.21 L470.00,143.12 L470.50,143.07 L471.00,143.04 L471.50,143.03 L472.00,143.04 L472.50,143.05 L473.00,143.09 L473.50,143.18 L474.00,143.33 L474.50,143.59 L475.00,144.03 L475.50,144.75 L476.00,145.87 L476.50,147.53 L477.00,149.91 L477.50,153.17 L478.00,157.43 L478.50,162.74 L479.00,169.02 L479.50,176.07 L480.00,183.51 L480.50,190.84 L481.00,197.44 L481.50,202.71 L482.00,206.11 L482.50,207.30 L483.00,206.14 L483.50,202.75 L484.00,197.51 L484.50,190.93 L485.00,183.64 L485.50,176.22 L486.00,169.19 L486.50,162.93 L487.00,157.65 L487.50,153.41 L488.00,150.17 L488.50,147.81 L489.00,146.17 L489.50,145.06 L490.00,144.36 L490.50,143.92 L491.00,143.66 L491.50,143.51 L492.00,143.43 L492.50,143.38 L493.00,143.35 L493.50,143.33 L494.00,143.31 L494.50,143.30 L495.00,143.28 L495.50,143.27 L496.00,143.25 L496.50,143.24 L497.00,143.23 L497.50,143.21 L498.00,143.20 L498.50,143.19 L499.00,143.17 L499.50,143.16 L500.00,143.15 L500.50,143.13 L501.00,143.12 L501.50,143.11 L502.00,143.11 L502.50,143.11 L503.00,143.12 L503.50,143.14 L504.00,143.17 L504.50,143.22 L505.00,143.30 L505.50,143.40 L506.00,143.52 L506.50,143.67 L507.00,143.86 L507.50,144.07 L508.00,144.31 L508.50,144.58 L509.00,144.87 L509.50,145.18 L510.00,145.49 L510.50,145.81 L511.00,146.14 L511.50,146.51 L512.00,147.00 L512.50,147.72 L513.00,148.78 L513.50,150.32 L514.00,152.36 L514.50,154.82 L515.00,157.43 L515.50,159.80 L516.00,161.51 L516.50,162.20 L517.00,161.74 L517.50,160.27 L518.00,158.11 L518.50,155.70 L519.00,153.44 L519.50,151.60 L520.00,150.31 L520.50,149.58 L521.00,149.35 L521.50,149.60 L522.00,150.36 L522.50,151.71 L523.00,153.82 L523.50,156.81 L524.00,160.77 L524.50,165.58 L525.00,170.92 L525.50,176.22 L526.00,180.78 L526.50,183.88 L527.00,185.00 L527.50,183.95" stroke="#9a0000" stroke-width="2.6"/>
<path d="M39.50,144.89 L40.00,144.88 L40.50,144.87 L41.00,144.85 L41.50,144.83 L42.00,144.81 L42.50,144.77 L43.00,144.74 L43.50,144.70 L44.00,144.66 L44.50,144.63 L45.00,144.60 L45.50,144.58 L46.00,144.57 L46.50,144.58 L47.00,144.61 L47.50,144.65 L48.00,144.72 L48.50,144.80 L49.00,144.89 L49.50,144.99 L50.00,145.09 L50.50,145.19 L51.00,145.28 L51.50,145.36 L52.00,145.42 L52.50,145.45 L53.00,145.46 L53.50,145.44 L54.00,145.40 L54.50,145.33 L55.00,145.24 L55.50,145.13 L56.00,145.02 L56.50,144.89 L57.00,144.76 L57.50,144.64 L58.00,144.52 L58.50,144.40 L59.00,144.30 L59.50,144.21 L60.00,144.13 L60.50,144.06 L61.00,144.01 L61.50,143.98 L62.00,143.95 L62.50,143.93 L63.00,143.92 L63.50,143.92 L64.00,143.93 L64.50,143.94 L65.00,143.97 L65.50,144.01 L66.00,144.07 L66.50,144.17 L67.00,144.34 L67.50,144.62 L68.00,145.08 L68.50,145.80 L69.00,146.91 L69.50,148.51 L70.00,150.73 L70.50,153.62 L71.00,157.16 L71.50,161.27 L72.00,165.67 L72.50,169.96 L73.00,173.68 L73.50,176.40 L74.00,177.45 L74.50,176.54 L75.00,173.97 L75.50,170.39 L76.00,166.25 L76.50,161.98 L77.00,158.02 L77.50,154.61 L78.00,151.87 L78.50,149.79 L79.00,148.32 L79.50,147.35 L80.00,146.75 L80.50,146.41 L81.00,146.24 L81.50,146.16 L82.00,146.14 L82.50,146.14 L83.00,146.16 L83.50,146.20 L84.00,146.28 L84.50,146.41 L85.00,146.62 L85.50,146.88 L86.00,147.16 L86.50,147.38 L87.00,147.43 L87.50,147.29 L88.00,146.94 L88.50,146.46 L89.00,145.95 L89.50,145.48 L90.00,145.10 L90.50,144.82 L91.00,144.62 L91.50,144.49 L92.00,144.40 L92.50,144.36 L93.00,144.35 L93.50,144.39 L94.00,144.49 L94.50,144.65 L95.00,144.91 L95.50,145.31 L96.00,145.89 L96.50,146.71 L97.00,147.85 L97.50,149.38 L98.00,151.34 L98.50,153.76 L99.00,156.61 L99.50,159.78 L100.00,163.10 L100.50,166.34 L101.00,169.21 L101.50,171.45 L102.00,172.88 L102.50,173.43 L103.00,173.06 L103.50,171.81 L104.00,169.75 L104.50,167.05 L105.00,163.99 L105.50,160.83 L106.00,157.83 L106.50,155.15 L107.00,152.90 L107.50,151.08 L108.00,149.67 L108.50,148.59 L109.00,147.75 L109.50,147.09 L110.00,146.57 L110.50,146.15 L111.00,145.82 L111.50,145.55 L112.00,145.32 L112.50,145.13 L113.00,144.96 L113.50,144.81 L114.00,144.68 L114.50,144.56 L115.00,144.46 L115.50,144.38 L116.00,144.31 L116.50,144.26 L117.00,144.21 L117.50,144.16 L118.00,144.12 L118.50,144.09 L119.00,144.05 L119.50,144.02 L120.00,143.99 L120.50,143.97 L121.00,143.95 L121.50,143.93 L122.00,143.93 L122.50,143.94 L123.00,144.00 L123.50,144.14 L124.00,144.42 L124.50,144.92 L125.00,145.75 L125.50,146.98 L126.00,148.64 L126.50,150.62 L127.00,152.72 L127.50,154.61 L128.00,155.93 L128.50,156.40 L129.00,155.92 L129.50,154.58 L130.00,152.68 L130.50,150.57 L131.00,148.57 L131.50,146.91 L132.00,145.68 L132.50,144.85 L133.00,144.37 L133.50,144.12 L134.00,144.04 L134.50,144.07 L135.00,144.17 L135.50,144.35 L136.00,144.64 L136.50,145.12 L137.00,145.97 L137.50,147.35 L138.00,149.44 L138.50,152.90 L139.00,157.08 L139.50,160.49 L140.00,161.87 L140.50,160.91 L141.00,158.53 L141.50,156.18 L142.00,155.37 L142.50,154.59 L143.00,154.04 L143.50,154.01 L144.00,154.06 L144.50,154.00 L145.00,153.80 L145.50,153.41 L146.00,152.74 L146.50,152.18 L147.00,152.24 L147.50,153.26 L148.00,155.32 L148.50,158.78 L149.00,162.73 L149.50,165.56 L150.00,166.13 L150.50,164.47 L151.00,161.83 L151.50,159.96 L152.00,160.00 L152.50,161.68 L153.00,164.36 L153.50,166.83 L154.00,167.71 L154.50,166.34 L155.00,163.13 L155.50,159.30 L156.00,155.77 L156.50,152.81 L157.00,150.73 L157.50,149.58 L158.00,149.28 L158.50,149.81 L159.00,151.22 L159.50,153.68 L160.00,157.35 L160.50,162.37 L161.00,168.64 L161.50,175.91 L162.00,184.32 L162.50,192.31 L163.00,197.85 L163.50,199.18 L164.00,195.79 L164.50,188.80 L165.00,180.15 L165.50,171.89 L166.00,164.76 L166.50,158.68 L167.00,153.91 L167.50,150.42 L168.00,148.00 L168.50,146.42 L169.00,145.44 L169.50,144.84 L170.00,144.48 L170.50,144.26 L171.00,144.13 L171.50,144.04 L172.00,143.99 L172.50,143.95 L173.00,143.93 L173.50,143.92 L174.00,143.91 L174.50,143.90 L175.00,143.90 L175.50,143.90 L176.00,143.90 L176.50,143.90 L177.00,143.90 L177.50,143.90 L178.00,143.90 L178.50,143.90 L179.00,143.90 L179.50,143.90 L180.00,143.90 L180.50,143.90 L181.00,143.90 L181.50,143.90 L182.00,143.90 L182.50,143.91 L183.00,143.93 L183.50,143.96 L184.00,144.01 L184.50,144.11 L185.00,144.28 L185.50,144.54 L186.00,144.90 L186.50,145.38 L187.00,145.96 L187.50,146.60 L188.00,147.24 L188.50,147.78 L189.00,148.16 L189.50,148.31 L190.00,148.23 L190.50,147.94 L191.00,147.50 L191.50,147.00 L192.00,146.51 L192.50,146.09 L193.00,145.76 L193.50,145.53 L194.00,145.38 L194.50,145.30 L195.00,145.26 L195.50,145.24 L196.00,145.24 L196.50,145.25 L197.00,145.28 L197.50,145.34 L198.00,145.44 L198.50,145.60 L199.00,145.81 L199.50,146.07 L200.00,146.35 L200.50,146.61 L201.00,146.81 L201.50,146.91 L202.00,146.87 L202.50,146.70 L203.00,146.42 L203.50,146.07 L204.00,145.69 L204.50,145.33 L205.00,145.01 L205.50,144.74 L206.00,144.54 L206.50,144.39 L207.00,144.28 L207.50,144.20 L208.00,144.13 L208.50,144.08 L209.00,144.04 L209.50,144.01 L210.00,143.98 L210.50,143.96 L211.00,143.95 L211.50,143.94 L212.00,143.94 L212.50,143.96 L213.00,143.99 L213.50,144.04 L214.00,144.11 L214.50,144.22 L215.00,144.37 L215.50,144.57 L216.00,144.86 L216.50,145.28 L217.00,145.91 L217.50,146.88 L218.00,148.37 L218.50,150.64 L219.00,153.89 L219.50,158.65 L220.00,166.12 L220.50,175.35 L221.00,184.27 L221.50,189.76 L222.00,189.51 L222.50,183.83 L223.00,175.40 L223.50,167.29 L224.00,161.41 L224.50,158.52 L225.00,157.43 L225.50,158.05 L226.00,160.38 L226.50,164.36 L227.00,169.79 L227.50,177.23 L228.00,186.50 L228.50,195.78 L229.00,202.50 L229.50,204.15 L230.00,200.00 L230.50,191.64 L231.00,181.82 L231.50,172.75 L232.00,165.83 L232.50,160.33 L233.00,156.06 L233.50,152.94 L234.00,150.76 L234.50,149.30 L235.00,148.33 L235.50,147.69 L236.00,147.26 L236.50,146.96 L237.00,146.75 L237.50,146.61 L238.00,146.52 L238.50,146.49 L239.00,146.49 L239.50,146.51 L240.00,146.56 L240.50,146.63 L241.00,146.71 L241.50,146.84 L242.00,147.04 L242.50,147.40 L243.00,148.01 L243.50,149.01 L244.00,150.56 L244.50,152.78 L245.00,155.71 L245.50,159.30 L246.00,163.29 L246.50,167.23 L247.00,170.53 L247.50,172.63 L248.00,173.12 L248.50,171.89 L249.00,169.20 L249.50,165.52 L250.00,161.47 L250.50,157.62 L251.00,154.38 L251.50,151.98 L252.00,150.52 L252.50,149.93 L253.00,150.03 L253.50,150.50 L254.00,151.00 L254.50,151.21 L255.00,150.95 L255.50,150.25 L256.00,149.26 L256.50,148.24 L257.00,147.36 L257.50,146.72 L258.00,146.32 L258.50,146.12 L259.00,146.06 L259.50,146.13 L260.00,146.35 L260.50,146.79 L261.00,147.56 L261.50,148.81 L262.00,150.67 L262.50,153.26 L263.00,156.57 L263.50,160.46 L264.00,164.60 L264.50,168.47 L265.00,171.44 L265.50,173.01 L266.00,172.85 L266.50,171.02 L267.00,167.87 L267.50,163.94 L268.00,159.84 L268.50,156.06 L269.00,152.88 L269.50,150.41 L270.00,148.62 L270.50,147.38 L271.00,146.54 L271.50,145.98 L272.00,145.57 L272.50,145.24 L273.00,144.96 L273.50,144.70 L274.00,144.46 L274.50,144.24 L275.00,144.05 L275.50,143.89 L276.00,143.76 L276.50,143.67 L277.00,143.61 L277.50,143.57 L278.00,143.56 L278.50,143.57 L279.00,143.59 L279.50,143.61 L280.00,143.64 L280.50,143.68 L281.00,143.72 L281.50,143.76 L282.00,143.82 L282.50,143.91 L283.00,144.09 L283.50,144.45 L284.00,145.00 L284.50,145.81 L285.00,147.16 L285.50,148.52 L286.00,149.10 L286.50,148.60 L287.00,147.31 L287.50,146.05 L288.00,145.33 L288.50,144.87 L289.00,144.63 L289.50,144.61 L290.00,144.78 L290.50,145.15 L291.00,145.82 L291.50,146.95 L292.00,148.76 L292.50,151.43 L293.00,155.14 L293.50,159.93 L294.00,165.60 L294.50,171.66 L295.00,177.52 L295.50,182.46 L296.00,185.22 L296.50,184.98 L297.00,181.82 L297.50,176.73 L298.00,170.93 L298.50,165.03 L299.00,159.63 L299.50,155.19 L300.00,151.82 L300.50,149.46 L301.00,147.93 L301.50,147.02 L302.00,146.52 L302.50,146.26 L303.00,146.15 L303.50,146.09 L304.00,146.05 L304.50,146.01 L305.00,145.96 L305.50,145.90 L306.00,145.84 L306.50,145.82 L307.00,145.86 L307.50,146.03 L308.00,146.39 L308.50,147.05 L309.00,148.14 L309.50,149.79 L310.00,152.15 L310.50,155.35 L311.00,159.49 L311.50,164.57 L312.00,170.51 L312.50,177.13 L313.00,184.10 L313.50,190.96 L314.00,197.54 L314.50,203.24 L315.00,206.71 L315.50,207.02 L316.00,204.10 L316.50,198.70 L317.00,192.16 L317.50,185.31 L318.00,178.28 L318.50,171.52 L319.00,165.38 L319.50,160.07 L320.00,155.68 L320.50,152.23 L321.00,149.64 L321.50,147.77 L322.00,146.49 L322.50,145.64 L323.00,145.09 L323.50,144.75 L324.00,144.55 L324.50,144.43 L325.00,144.36 L325.50,144.31 L326.00,144.28 L326.50,144.26 L327.00,144.24 L327.50,144.23 L328.00,144.21 L328.50,144.20 L329.00,144.19 L329.50,144.17 L330.00,144.16 L330.50,144.15 L331.00,144.13 L331.50,144.12 L332.00,144.11 L332.50,144.09 L333.00,144.08 L333.50,144.07 L334.00,144.05 L334.50,144.04 L335.00,144.04 L335.50,144.04 L336.00,144.05 L336.50,144.09 L337.00,144.18 L337.50,144.33 L338.00,144.58 L338.50,144.94 L339.00,145.44 L339.50,146.05 L340.00,146.73 L340.50,147.43 L341.00,148.06 L341.50,148.53 L342.00,148.80 L342.50,148.88 L343.00,148.85 L343.50,148.89 L344.00,149.23 L344.50,150.14 L345.00,151.88 L345.50,154.63 L346.00,158.39 L346.50,162.96 L347.00,167.84 L347.50,172.36 L348.00,175.83 L348.50,177.80 L349.00,178.05 L349.50,176.55 L350.00,173.47 L350.50,169.20 L351.00,164.35 L351.50,159.59 L352.00,155.45 L352.50,152.16 L353.00,149.77 L353.50,148.16 L354.00,147.14 L354.50,146.53 L355.00,146.16 L355.50,145.94 L356.00,145.79 L356.50,145.68 L357.00,145.58 L357.50,145.49 L358.00,145.40 L358.50,145.32 L359.00,145.25 L359.50,145.19 L360.00,145.14 L360.50,145.12 L361.00,145.12 L361.50,145.15 L362.00,145.23 L362.50,145.34 L363.00,145.50 L363.50,145.70 L364.00,145.93 L364.50,146.18 L365.00,146.41 L365.50,146.61 L366.00,146.75 L366.50,146.81 L367.00,146.78 L367.50,146.65 L368.00,146.44 L368.50,146.17 L369.00,145.85 L369.50,145.53 L370.00,145.21 L370.50,144.91 L371.00,144.66 L371.50,144.45 L372.00,144.28 L372.50,144.15 L373.00,144.05 L373.50,143.98 L374.00,143.93 L374.50,143.90 L375.00,143.88 L375.50,143.87 L376.00,143.87 L376.50,143.88 L377.00,143.89 L377.50,143.92 L378.00,143.95 L378.50,144.00 L379.00,144.08 L379.50,144.19 L380.00,144.35 L380.50,144.58 L381.00,144.87 L381.50,145.23 L382.00,145.67 L382.50,146.16 L383.00,146.68 L383.50,147.19 L384.00,147.65 L384.50,148.01 L385.00,148.24 L385.50,148.30 L386.00,148.20 L386.50,147.94 L387.00,147.56 L387.50,147.10 L388.00,146.60 L388.50,146.12 L389.00,145.67 L389.50,145.29 L390.00,144.98 L390.50,144.74 L391.00,144.57 L391.50,144.46 L392.00,144.39 L392.50,144.35 L393.00,144.36 L393.50,144.40 L394.00,144.50 L394.50,144.70 L395.00,145.05 L395.50,145.65 L396.00,146.58 L396.50,147.95 L397.00,149.83 L397.50,152.20 L398.00,154.90 L398.50,158.01 L399.00,160.94 L399.50,162.66 L400.00,162.72 L400.50,161.46 L401.00,159.88 L401.50,158.96 L402.00,158.87 L402.50,159.60 L403.00,161.10 L403.50,162.52 L404.00,162.80 L404.50,161.45 L405.00,158.76 L405.50,155.67 L406.00,152.97 L406.50,150.60 L407.00,148.67 L407.50,147.24 L408.00,146.26 L408.50,145.61 L409.00,145.21 L409.50,144.97 L410.00,144.83 L410.50,144.74 L411.00,144.69 L411.50,144.66 L412.00,144.65 L412.50,144.66 L413.00,144.70 L413.50,144.76 L414.00,144.84 L414.50,144.93 L415.00,145.04 L415.50,145.16 L416.00,145.27 L416.50,145.38 L417.00,145.48 L417.50,145.57 L418.00,145.66 L418.50,145.77 L419.00,145.88 L419.50,146.04 L420.00,146.23 L420.50,146.48 L421.00,146.78 L421.50,147.13 L422.00,147.51 L422.50,147.90 L423.00,148.26 L423.50,148.55 L424.00,148.74 L424.50,148.80 L425.00,148.73 L425.50,148.53 L426.00,148.21 L426.50,147.81 L427.00,147.37 L427.50,146.92 L428.00,146.49 L428.50,146.10 L429.00,145.77 L429.50,145.49 L430.00,145.27 L430.50,145.10 L431.00,144.96 L431.50,144.84 L432.00,144.74 L432.50,144.66 L433.00,144.58 L433.50,144.50 L434.00,144.43 L434.50,144.36 L435.00,144.29 L435.50,144.21 L436.00,144.14 L436.50,144.07 L437.00,144.00 L437.50,143.93 L438.00,143.86 L438.50,143.80 L439.00,143.73 L439.50,143.67 L440.00,143.62 L440.50,143.58 L441.00,143.54 L441.50,143.52 L442.00,143.52 L442.50,143.52 L443.00,143.55 L443.50,143.60 L444.00,143.67 L444.50,143.78 L445.00,143.93 L445.50,144.14 L446.00,144.42 L446.50,144.77 L447.00,145.19 L447.50,145.63 L448.00,146.07 L448.50,146.44 L449.00,146.70 L449.50,146.81 L450.00,146.76 L450.50,146.58 L451.00,146.30 L451.50,145.97 L452.00,145.66 L452.50,145.38 L453.00,145.17 L453.50,145.03 L454.00,144.94 L454.50,144.90 L455.00,144.89 L455.50,144.90 L456.00,144.94 L456.50,145.03 L457.00,145.23 L457.50,145.61 L458.00,146.30 L458.50,147.46 L459.00,149.29 L459.50,152.00 L460.00,155.77 L460.50,160.67 L461.00,167.77 L461.50,176.85 L462.00,186.27 L462.50,193.26 L463.00,195.07 L463.50,190.86 L464.00,182.45 L464.50,172.82 L465.00,164.29 L465.50,158.16 L466.00,153.66 L466.50,150.25 L467.00,147.85 L467.50,146.25 L468.00,145.24 L468.50,144.63 L469.00,144.29 L469.50,144.11 L470.00,144.02 L470.50,143.97 L471.00,143.94 L471.50,143.93 L472.00,143.94 L472.50,143.95 L473.00,143.99 L473.50,144.08 L474.00,144.23 L474.50,144.49 L475.00,144.93 L475.50,145.65 L476.00,146.77 L476.50,148.43 L477.00,150.81 L477.50,154.07 L478.00,158.33 L478.50,163.65 L479.00,169.97 L479.50,177.13 L480.00,184.86 L480.50,192.66 L481.00,200.24 L481.50,207.27 L482.00,212.34 L482.50,214.20 L483.00,212.36 L483.50,207.32 L484.00,200.31 L484.50,192.76 L485.00,184.98 L485.50,177.28 L486.00,170.13 L486.50,163.84 L487.00,158.55 L487.50,154.31 L488.00,151.07 L488.50,148.71 L489.00,147.07 L489.50,145.96 L490.00,145.26 L490.50,144.82 L491.00,144.56 L491.50,144.41 L492.00,144.33 L492.50,144.28 L493.00,144.25 L493.50,144.23 L494.00,144.21 L494.50,144.20 L495.00,144.18 L495.50,144.17 L496.00,144.15 L496.50,144.14 L497.00,144.13 L497.50,144.11 L498.00,144.10 L498.50,144.09 L499.00,144.07 L499.50,144.06 L500.00,144.05 L500.50,144.03 L501.00,144.02 L501.50,144.01 L502.00,144.01 L502.50,144.01 L503.00,144.02 L503.50,144.04 L504.00,144.07 L504.50,144.12 L505.00,144.20 L505.50,144.30 L506.00,144.42 L506.50,144.57 L507.00,144.76 L507.50,144.97 L508.00,145.21 L508.50,145.48 L509.00,145.77 L509.50,146.08 L510.00,146.39 L510.50,146.71 L511.00,147.04 L511.50,147.41 L512.00,147.91 L512.50,148.62 L513.00,149.70 L513.50,151.29 L514.00,153.47 L514.50,156.20 L515.00,159.18 L515.50,162.03 L516.00,164.29 L516.50,165.24 L517.00,164.53 L517.50,162.50 L518.00,159.86 L518.50,157.08 L519.00,154.55 L519.50,152.57 L520.00,151.23 L520.50,150.48 L521.00,150.25 L521.50,150.50 L522.00,151.26 L522.50,152.61 L523.00,154.72 L523.50,157.71 L524.00,161.67 L524.50,166.48 L525.00,171.82 L525.50,177.12 L526.00,181.68 L526.50,184.78 L527.00,185.90 L527.50,184.85" stroke="#0000ff" stroke-width="1.0" opacity="0.62"/>
</g>
<rect x="42.5" y="133.5" width="482.30" height="103" fill="none" stroke="#1c1c1c" stroke-width="1.05"/>
<path d="M42.50,236.5v-5M42.50,133.5v5M69.29,236.5v-5M69.29,133.5v5M96.09,236.5v-5M96.09,133.5v5M122.88,236.5v-5M122.88,133.5v5M149.68,236.5v-7.5M149.68,133.5v7.5M176.47,236.5v-5M176.47,133.5v5M203.27,236.5v-5M203.27,133.5v5M230.06,236.5v-5M230.06,133.5v5M256.86,236.5v-5M256.86,133.5v5M283.65,236.5v-7.5M283.65,133.5v7.5M310.44,236.5v-5M310.44,133.5v5M337.24,236.5v-5M337.24,133.5v5M364.03,236.5v-5M364.03,133.5v5M390.83,236.5v-5M390.83,133.5v5M417.62,236.5v-7.5M417.62,133.5v7.5M444.42,236.5v-5M444.42,133.5v5M471.21,236.5v-5M471.21,133.5v5M498.01,236.5v-5M498.01,133.5v5M524.80,236.5v-5M524.80,133.5v5M42.5,236.50h7.5M524.80,236.50h-7.5M42.5,227.15h4.8M524.80,227.15h-4.8M42.5,217.80h4.8M524.80,217.80h-4.8M42.5,208.45h4.8M524.80,208.45h-4.8M42.5,199.10h4.8M524.80,199.10h-4.8M42.5,189.75h7.5M524.80,189.75h-7.5M42.5,180.40h4.8M524.80,180.40h-4.8M42.5,171.05h4.8M524.80,171.05h-4.8M42.5,161.70h4.8M524.80,161.70h-4.8M42.5,152.35h4.8M524.80,152.35h-4.8M42.5,143.00h7.5M524.80,143.00h-7.5M42.5,133.65h4.8M524.80,133.65h-4.8" stroke="#222" stroke-width="1" fill="none"/>
<text x="34.6" y="149.20" text-anchor="end" font-size="11">1.0</text>
<text x="34.6" y="195.95" text-anchor="end" font-size="11">0.5</text>
<text x="34.6" y="242.70" text-anchor="end" font-size="11">0.0</text>
<text x="147.68" y="254.80" text-anchor="middle" font-size="11">6240</text>
<text x="281.65" y="254.80" text-anchor="middle" font-size="11">6245</text>
<text x="415.62" y="254.80" text-anchor="middle" font-size="11">6250</text>
<text x="0" y="171.70" font-size="13.6">F/F</text>
<text x="20.2" y="176.60" font-size="10.2">c</text>
<text x="74.7" y="192.1" text-anchor="middle" font-size="10">R</text>
<text x="163.9" y="214.4" text-anchor="middle" font-size="10">R</text>
<text x="266.2" y="187.1" text-anchor="middle" font-size="10">R</text>
<text x="315.6" y="221.6" text-anchor="middle" font-size="10">R</text>
<text x="483.0" y="229.2" text-anchor="middle" font-size="10">R</text>
<g clip-path="url(#c2)" fill="none" stroke-linejoin="round" stroke-linecap="round">
<path d="M39.50,288.23 L40.00,292.38 L40.50,296.89 L41.00,301.48 L41.50,306.00 L42.00,310.46 L42.50,315.01 L43.00,319.84 L43.50,324.94 L44.00,330.03 L44.50,334.50 L45.00,337.57 L45.50,338.51 L46.00,336.90 L46.50,332.72 L47.00,326.42 L47.50,318.73 L48.00,310.55 L48.50,302.70 L49.00,295.77 L49.50,290.10 L50.00,285.78 L50.50,282.69 L51.00,280.61 L51.50,279.30 L52.00,278.51 L52.50,278.08 L53.00,277.87 L53.50,277.80 L54.00,277.82 L54.50,277.89 L55.00,278.01 L55.50,278.15 L56.00,278.31 L56.50,278.49 L57.00,278.67 L57.50,278.85 L58.00,279.03 L58.50,279.21 L59.00,279.38 L59.50,279.54 L60.00,279.69 L60.50,279.83 L61.00,279.96 L61.50,280.07 L62.00,280.16 L62.50,280.23 L63.00,280.27 L63.50,280.27 L64.00,280.24 L64.50,280.17 L65.00,280.05 L65.50,279.91 L66.00,279.72 L66.50,279.51 L67.00,279.28 L67.50,279.03 L68.00,278.78 L68.50,278.54 L69.00,278.31 L69.50,278.10 L70.00,277.93 L70.50,277.79 L71.00,277.69 L71.50,277.62 L72.00,277.59 L72.50,277.57 L73.00,277.56 L73.50,277.56 L74.00,277.54 L74.50,277.51 L75.00,277.47 L75.50,277.40 L76.00,277.32 L76.50,277.22 L77.00,277.11 L77.50,277.00 L78.00,276.88 L78.50,276.76 L79.00,276.65 L79.50,276.56 L80.00,276.47 L80.50,276.41 L81.00,276.38 L81.50,276.37 L82.00,276.40 L82.50,276.45 L83.00,276.54 L83.50,276.64 L84.00,276.78 L84.50,276.94 L85.00,277.13 L85.50,277.39 L86.00,277.77 L86.50,278.38 L87.00,279.36 L87.50,280.91 L88.00,283.21 L88.50,286.32 L89.00,290.09 L89.50,294.08 L90.00,297.64 L90.50,300.06 L91.00,300.80 L91.50,299.74 L92.00,297.17 L92.50,293.73 L93.00,290.15 L93.50,287.00 L94.00,284.65 L94.50,283.17 L95.00,282.53 L95.50,282.63 L96.00,283.44 L96.50,285.00 L97.00,287.42 L97.50,290.82 L98.00,295.30 L98.50,300.85 L99.00,307.29 L99.50,314.26 L100.00,321.21 L100.50,327.49 L101.00,332.39 L101.50,335.33 L102.00,335.92 L102.50,334.07 L103.00,329.99 L103.50,324.17 L104.00,317.26 L104.50,309.95 L105.00,302.87 L105.50,296.51 L106.00,291.13 L106.50,286.86 L107.00,283.64 L107.50,281.33 L108.00,279.75 L108.50,278.72 L109.00,278.07 L109.50,277.67 L110.00,277.44 L110.50,277.31 L111.00,277.26 L111.50,277.30 L112.00,277.45 L112.50,277.82 L113.00,278.51 L113.50,279.64 L114.00,281.27 L114.50,283.32 L115.00,285.51 L115.50,287.43 L116.00,288.60 L116.50,288.71 L117.00,287.73 L117.50,285.93 L118.00,283.75 L118.50,281.64 L119.00,279.90 L119.50,278.66 L120.00,277.88 L120.50,277.43 L121.00,277.19 L121.50,277.07 L122.00,277.00 L122.50,276.95 L123.00,276.91 L123.50,276.87 L124.00,276.83 L124.50,276.79 L125.00,276.75 L125.50,276.70 L126.00,276.67 L126.50,276.63 L127.00,276.61 L127.50,276.59 L128.00,276.59 L128.50,276.59 L129.00,276.62 L129.50,276.67 L130.00,276.76 L130.50,276.93 L131.00,277.22 L131.50,277.68 L132.00,278.33 L132.50,279.12 L133.00,279.94 L133.50,280.62 L134.00,280.98 L134.50,280.93 L135.00,280.52 L135.50,279.92 L136.00,279.34 L136.50,278.97 L137.00,278.94 L137.50,279.30 L138.00,280.03 L138.50,280.97 L139.00,281.90 L139.50,282.58 L140.00,282.80 L140.50,282.52 L141.00,281.86 L141.50,281.03 L142.00,280.29 L142.50,279.85 L143.00,279.85 L143.50,280.42 L144.00,281.70 L144.50,283.88 L145.00,287.13 L145.50,291.56 L146.00,297.10 L146.50,303.41 L147.00,309.85 L147.50,315.60 L148.00,319.76 L148.50,321.64 L149.00,320.90 L149.50,317.69 L150.00,312.59 L150.50,306.42 L151.00,300.08 L151.50,294.28 L152.00,289.49 L152.50,285.86 L153.00,283.34 L153.50,281.72 L154.00,280.76 L154.50,280.25 L155.00,280.00 L155.50,279.90 L156.00,279.89 L156.50,279.93 L157.00,280.02 L157.50,280.19 L158.00,280.51 L158.50,281.06 L159.00,281.98 L159.50,283.43 L160.00,285.58 L160.50,288.61 L161.00,292.60 L161.50,297.56 L162.00,303.30 L162.50,309.44 L163.00,315.46 L163.50,320.70 L164.00,324.53 L164.50,326.44 L165.00,326.17 L165.50,323.74 L166.00,319.48 L166.50,313.95 L167.00,307.83 L167.50,301.86 L168.00,296.70 L168.50,292.88 L169.00,290.66 L169.50,289.89 L170.00,289.93 L170.50,289.89 L171.00,289.03 L171.50,287.12 L172.00,284.54 L172.50,281.93 L173.00,279.82 L173.50,278.39 L174.00,277.55 L174.50,277.09 L175.00,276.84 L175.50,276.68 L176.00,276.57 L176.50,276.47 L177.00,276.39 L177.50,276.32 L178.00,276.27 L178.50,276.22 L179.00,276.19 L179.50,276.17 L180.00,276.17 L180.50,276.19 L181.00,276.26 L181.50,276.40 L182.00,276.63 L182.50,277.00 L183.00,277.56 L183.50,278.39 L184.00,279.55 L184.50,281.08 L185.00,283.01 L185.50,285.26 L186.00,287.72 L186.50,290.18 L187.00,292.39 L187.50,294.08 L188.00,295.04 L188.50,295.18 L189.00,294.48 L189.50,293.10 L190.00,291.24 L190.50,289.16 L191.00,287.10 L191.50,285.24 L192.00,283.69 L192.50,282.48 L193.00,281.57 L193.50,280.92 L194.00,280.44 L194.50,280.08 L195.00,279.79 L195.50,279.53 L196.00,279.29 L196.50,279.04 L197.00,278.80 L197.50,278.56 L198.00,278.31 L198.50,278.07 L199.00,277.84 L199.50,277.61 L200.00,277.40 L200.50,277.20 L201.00,277.02 L201.50,276.86 L202.00,276.73 L202.50,276.62 L203.00,276.53 L203.50,276.46 L204.00,276.41 L204.50,276.37 L205.00,276.35 L205.50,276.32 L206.00,276.31 L206.50,276.29 L207.00,276.28 L207.50,276.26 L208.00,276.25 L208.50,276.24 L209.00,276.23 L209.50,276.22 L210.00,276.20 L210.50,276.19 L211.00,276.18 L211.50,276.17 L212.00,276.16 L212.50,276.15 L213.00,276.13 L213.50,276.12 L214.00,276.11 L214.50,276.10 L215.00,276.09 L215.50,276.07 L216.00,276.06 L216.50,276.05 L217.00,276.04 L217.50,276.03 L218.00,276.01 L218.50,276.00 L219.00,275.99 L219.50,275.98 L220.00,275.98 L220.50,275.98 L221.00,276.01 L221.50,276.07 L222.00,276.20 L222.50,276.47 L223.00,276.96 L223.50,277.81 L224.00,279.18 L224.50,281.28 L225.00,284.31 L225.50,288.39 L226.00,293.53 L226.50,299.55 L227.00,306.03 L227.50,312.36 L228.00,317.81 L228.50,321.65 L229.00,323.35 L229.50,322.64 L230.00,319.64 L230.50,314.78 L231.00,308.75 L231.50,302.28 L232.00,296.05 L232.50,290.56 L233.00,286.08 L233.50,282.67 L234.00,280.24 L234.50,278.62 L235.00,277.61 L235.50,277.01 L236.00,276.68 L236.50,276.50 L237.00,276.41 L237.50,276.37 L238.00,276.34 L238.50,276.32 L239.00,276.31 L239.50,276.29 L240.00,276.27 L240.50,276.25 L241.00,276.23 L241.50,276.21 L242.00,276.19 L242.50,276.17 L243.00,276.15 L243.50,276.13 L244.00,276.11 L244.50,276.10 L245.00,276.09 L245.50,276.10 L246.00,276.13 L246.50,276.18 L247.00,276.26 L247.50,276.38 L248.00,276.55 L248.50,276.77 L249.00,277.03 L249.50,277.34 L250.00,277.68 L250.50,278.04 L251.00,278.43 L251.50,278.83 L252.00,279.24 L252.50,279.69 L253.00,280.21 L253.50,280.84 L254.00,281.62 L254.50,282.60 L255.00,283.77 L255.50,285.05 L256.00,286.33 L256.50,287.44 L257.00,288.23 L257.50,288.59 L258.00,288.54 L258.50,288.17 L259.00,287.65 L259.50,287.15 L260.00,286.79 L260.50,286.62 L261.00,286.59 L261.50,286.61 L262.00,286.59 L262.50,286.42 L263.00,286.07 L263.50,285.51 L264.00,284.78 L264.50,283.94 L265.00,283.04 L265.50,282.14 L266.00,281.27 L266.50,280.48 L267.00,279.77 L267.50,279.15 L268.00,278.63 L268.50,278.19 L269.00,277.85 L269.50,277.59 L270.00,277.40 L270.50,277.26 L271.00,277.16 L271.50,277.10 L272.00,277.05 L272.50,277.02 L273.00,277.00 L273.50,276.99 L274.00,276.97 L274.50,276.96 L275.00,276.95 L275.50,276.94 L276.00,276.93 L276.50,276.92 L277.00,276.91 L277.50,276.90 L278.00,276.88 L278.50,276.87 L279.00,276.87 L279.50,276.86 L280.00,276.87 L280.50,276.90 L281.00,276.97 L281.50,277.10 L282.00,277.31 L282.50,277.59 L283.00,277.91 L283.50,278.20 L284.00,278.37 L284.50,278.38 L285.00,278.21 L285.50,277.92 L286.00,277.58 L286.50,277.26 L287.00,277.01 L287.50,276.85 L288.00,276.74 L288.50,276.69 L289.00,276.65 L289.50,276.64 L290.00,276.62 L290.50,276.61 L291.00,276.60 L291.50,276.59 L292.00,276.58 L292.50,276.57 L293.00,276.56 L293.50,276.56 L294.00,276.58 L294.50,276.63 L295.00,276.73 L295.50,276.90 L296.00,277.14 L296.50,277.41 L297.00,277.67 L297.50,277.85 L298.00,277.90 L298.50,277.78 L299.00,277.56 L299.50,277.27 L300.00,277.01 L300.50,276.80 L301.00,276.66 L301.50,276.59 L302.00,276.57 L302.50,276.57 L303.00,276.59 L303.50,276.61 L304.00,276.64 L304.50,276.67 L305.00,276.70 L305.50,276.73 L306.00,276.76 L306.50,276.79 L307.00,276.82 L307.50,276.84 L308.00,276.87 L308.50,276.89 L309.00,276.92 L309.50,276.94 L310.00,276.95 L310.50,276.97 L311.00,276.98 L311.50,276.99 L312.00,276.99 L312.50,277.00 L313.00,277.02 L313.50,277.05 L314.00,277.12 L314.50,277.24 L315.00,277.43 L315.50,277.68 L316.00,277.96 L316.50,278.21 L317.00,278.37 L317.50,278.39 L318.00,278.26 L318.50,278.02 L319.00,277.74 L319.50,277.48 L320.00,277.28 L320.50,277.15 L321.00,277.09 L321.50,277.07 L322.00,277.10 L322.50,277.16 L323.00,277.27 L323.50,277.44 L324.00,277.68 L324.50,277.99 L325.00,278.35 L325.50,278.72 L326.00,279.08 L326.50,279.38 L327.00,279.56 L327.50,279.62 L328.00,279.56 L328.50,279.42 L329.00,279.26 L329.50,279.17 L330.00,279.25 L330.50,279.62 L331.00,280.41 L331.50,281.79 L332.00,283.91 L332.50,286.96 L333.00,291.04 L333.50,296.20 L334.00,302.33 L334.50,309.15 L335.00,316.19 L335.50,322.84 L336.00,328.42 L336.50,332.31 L337.00,334.04 L337.50,333.39 L338.00,330.47 L338.50,325.63 L339.00,319.46 L339.50,312.63 L340.00,305.78 L340.50,299.43 L341.00,293.93 L341.50,289.45 L342.00,285.99 L342.50,283.43 L343.00,281.61 L343.50,280.36 L344.00,279.52 L344.50,278.97 L345.00,278.67 L345.50,278.59 L346.00,278.74 L346.50,279.14 L347.00,279.80 L347.50,280.66 L348.00,281.61 L348.50,282.48 L349.00,283.09 L349.50,283.30 L350.00,283.05 L350.50,282.40 L351.00,281.46 L351.50,280.43 L352.00,279.45 L352.50,278.64 L353.00,278.03 L353.50,277.63 L354.00,277.38 L354.50,277.24 L355.00,277.18 L355.50,277.16 L356.00,277.16 L356.50,277.19 L357.00,277.27 L357.50,277.43 L358.00,277.72 L358.50,278.18 L359.00,278.76 L359.50,279.29 L360.00,279.58 L360.50,279.52 L361.00,279.16 L361.50,278.68 L362.00,278.24 L362.50,277.95 L363.00,277.80 L363.50,277.76 L364.00,277.79 L364.50,277.90 L365.00,278.17 L365.50,278.67 L366.00,279.50 L366.50,280.72 L367.00,282.26 L367.50,283.92 L368.00,285.34 L368.50,286.19 L369.00,286.20 L369.50,285.35 L370.00,283.86 L370.50,282.08 L371.00,280.35 L371.50,278.94 L372.00,277.92 L372.50,277.28 L373.00,276.92 L373.50,276.75 L374.00,276.69 L374.50,276.68 L375.00,276.71 L375.50,276.76 L376.00,276.83 L376.50,276.92 L377.00,277.04 L377.50,277.20 L378.00,277.41 L378.50,277.68 L379.00,278.00 L379.50,278.37 L380.00,278.76 L380.50,279.11 L381.00,279.39 L381.50,279.57 L382.00,279.61 L382.50,279.52 L383.00,279.32 L383.50,279.04 L384.00,278.74 L384.50,278.44 L385.00,278.18 L385.50,277.95 L386.00,277.76 L386.50,277.61 L387.00,277.48 L387.50,277.36 L388.00,277.26 L388.50,277.15 L389.00,277.05 L389.50,276.96 L390.00,276.86 L390.50,276.78 L391.00,276.70 L391.50,276.63 L392.00,276.57 L392.50,276.52 L393.00,276.48 L393.50,276.46 L394.00,276.44 L394.50,276.42 L395.00,276.41 L395.50,276.41 L396.00,276.40 L396.50,276.40 L397.00,276.40 L397.50,276.40 L398.00,276.40 L398.50,276.41 L399.00,276.41 L399.50,276.43 L400.00,276.46 L400.50,276.52 L401.00,276.63 L401.50,276.81 L402.00,277.08 L402.50,277.50 L403.00,278.06 L403.50,278.80 L404.00,279.69 L404.50,280.68 L405.00,281.69 L405.50,282.61 L406.00,283.33 L406.50,283.73 L407.00,283.77 L407.50,283.43 L408.00,282.78 L408.50,281.89 L409.00,280.89 L409.50,279.89 L410.00,278.98 L410.50,278.21 L411.00,277.61 L411.50,277.18 L412.00,276.89 L412.50,276.71 L413.00,276.61 L413.50,276.56 L414.00,276.54 L414.50,276.55 L415.00,276.56 L415.50,276.59 L416.00,276.61 L416.50,276.64 L417.00,276.66 L417.50,276.69 L418.00,276.72 L418.50,276.74 L419.00,276.77 L419.50,276.80 L420.00,276.83 L420.50,276.85 L421.00,276.88 L421.50,276.91 L422.00,276.93 L422.50,276.96 L423.00,277.00 L423.50,277.05 L424.00,277.15 L424.50,277.33 L425.00,277.66 L425.50,278.17 L426.00,278.85 L426.50,279.59 L427.00,280.20 L427.50,280.49 L428.00,280.37 L428.50,279.87 L429.00,279.17 L429.50,278.46 L430.00,277.90 L430.50,277.54 L431.00,277.39 L431.50,277.43 L432.00,277.68 L432.50,278.20 L433.00,279.09 L433.50,280.42 L434.00,282.16 L434.50,284.20 L435.00,286.22 L435.50,287.85 L436.00,288.72 L436.50,288.62 L437.00,287.57 L437.50,285.83 L438.00,283.78 L438.50,281.78 L439.00,280.10 L439.50,278.86 L440.00,278.04 L440.50,277.55 L441.00,277.28 L441.50,277.14 L442.00,277.06 L442.50,277.03 L443.00,277.00 L443.50,276.98 L444.00,276.96 L444.50,276.95 L445.00,276.95 L445.50,276.96 L446.00,277.01 L446.50,277.11 L447.00,277.29 L447.50,277.57 L448.00,277.98 L448.50,278.51 L449.00,279.14 L449.50,279.83 L450.00,280.47 L450.50,280.98 L451.00,281.26 L451.50,281.27 L452.00,280.99 L452.50,280.48 L453.00,279.82 L453.50,279.10 L454.00,278.41 L454.50,277.82 L455.00,277.36 L455.50,277.04 L456.00,276.83 L456.50,276.71 L457.00,276.66 L457.50,276.66 L458.00,276.69 L458.50,276.74 L459.00,276.80 L459.50,276.87 L460.00,276.94 L460.50,277.02 L461.00,277.11 L461.50,277.21 L462.00,277.35 L462.50,277.54 L463.00,277.83 L463.50,278.26 L464.00,278.88 L464.50,279.68 L465.00,280.63 L465.50,281.62 L466.00,282.49 L466.50,283.09 L467.00,283.38 L467.50,283.41 L468.00,283.40 L468.50,283.70 L469.00,284.70 L469.50,286.77 L470.00,290.14 L470.50,294.84 L471.00,300.62 L471.50,306.92 L472.00,312.93 L472.50,317.74 L473.00,320.53 L473.50,320.79 L474.00,318.47 L474.50,313.99 L475.00,308.09 L475.50,301.66 L476.00,295.49 L476.50,290.17 L477.00,285.95 L477.50,282.85 L478.00,280.72 L478.50,279.32 L479.00,278.41 L479.50,277.83 L480.00,277.42 L480.50,277.11 L481.00,276.88 L481.50,276.68 L482.00,276.53 L482.50,276.41 L483.00,276.34 L483.50,276.29 L484.00,276.28 L484.50,276.29 L485.00,276.31 L485.50,276.35 L486.00,276.40 L486.50,276.46 L487.00,276.52 L487.50,276.58 L488.00,276.64 L488.50,276.71 L489.00,276.78 L489.50,276.85 L490.00,276.93 L490.50,277.02 L491.00,277.12 L491.50,277.22 L492.00,277.35 L492.50,277.48 L493.00,277.63 L493.50,277.78 L494.00,277.96 L494.50,278.15 L495.00,278.37 L495.50,278.65 L496.00,279.03 L496.50,279.59 L497.00,280.43 L497.50,281.66 L498.00,283.42 L498.50,285.79 L499.00,288.75 L499.50,292.16 L500.00,295.71 L500.50,298.99 L501.00,301.53 L501.50,302.92 L502.00,302.95 L502.50,301.63 L503.00,299.23 L503.50,296.14 L504.00,292.85 L504.50,289.73 L505.00,287.06 L505.50,284.95 L506.00,283.39 L506.50,282.30 L507.00,281.55 L507.50,281.05 L508.00,280.73 L508.50,280.55 L509.00,280.50 L509.50,280.60 L510.00,280.88 L510.50,281.34 L511.00,281.99 L511.50,282.78 L512.00,283.62 L512.50,284.40 L513.00,284.99 L513.50,285.28 L514.00,285.22 L514.50,284.81 L515.00,284.12 L515.50,283.28 L516.00,282.41 L516.50,281.63 L517.00,281.01 L517.50,280.58 L518.00,280.32 L518.50,280.21 L519.00,280.18 L519.50,280.20 L520.00,280.22 L520.50,280.21 L521.00,280.14 L521.50,280.03 L522.00,279.87 L522.50,279.67 L523.00,279.46 L523.50,279.25 L524.00,279.05 L524.50,278.87 L525.00,278.73 L525.50,278.62 L526.00,278.54 L526.50,278.49 L527.00,278.45 L527.50,278.43" stroke="#9a0000" stroke-width="2.6"/>
<path d="M39.50,289.13 L40.00,293.28 L40.50,297.79 L41.00,302.38 L41.50,306.90 L42.00,311.38 L42.50,316.00 L43.00,321.02 L43.50,326.47 L44.00,332.10 L44.50,337.57 L45.00,341.88 L45.50,343.49 L46.00,341.58 L46.50,336.31 L47.00,328.82 L47.50,320.45 L48.00,311.86 L48.50,303.74 L49.00,296.71 L49.50,291.01 L50.00,286.69 L50.50,283.59 L51.00,281.51 L51.50,280.20 L52.00,279.41 L52.50,278.98 L53.00,278.77 L53.50,278.70 L54.00,278.72 L54.50,278.79 L55.00,278.91 L55.50,279.05 L56.00,279.21 L56.50,279.39 L57.00,279.57 L57.50,279.75 L58.00,279.93 L58.50,280.11 L59.00,280.28 L59.50,280.44 L60.00,280.59 L60.50,280.73 L61.00,280.86 L61.50,280.97 L62.00,281.06 L62.50,281.13 L63.00,281.17 L63.50,281.17 L64.00,281.14 L64.50,281.07 L65.00,280.95 L65.50,280.81 L66.00,280.62 L66.50,280.41 L67.00,280.18 L67.50,279.93 L68.00,279.68 L68.50,279.44 L69.00,279.21 L69.50,279.00 L70.00,278.83 L70.50,278.69 L71.00,278.59 L71.50,278.52 L72.00,278.49 L72.50,278.47 L73.00,278.46 L73.50,278.46 L74.00,278.44 L74.50,278.41 L75.00,278.37 L75.50,278.30 L76.00,278.22 L76.50,278.12 L77.00,278.01 L77.50,277.90 L78.00,277.78 L78.50,277.66 L79.00,277.55 L79.50,277.46 L80.00,277.37 L80.50,277.31 L81.00,277.28 L81.50,277.27 L82.00,277.30 L82.50,277.35 L83.00,277.44 L83.50,277.54 L84.00,277.68 L84.50,277.84 L85.00,278.03 L85.50,278.29 L86.00,278.67 L86.50,279.28 L87.00,280.27 L87.50,281.85 L88.00,284.24 L88.50,287.56 L89.00,291.70 L89.50,296.23 L90.00,300.69 L90.50,303.99 L91.00,304.99 L91.50,303.37 L92.00,299.82 L92.50,295.63 L93.00,291.60 L93.50,288.14 L94.00,285.62 L94.50,284.09 L95.00,283.43 L95.50,283.53 L96.00,284.34 L96.50,285.90 L97.00,288.32 L97.50,291.72 L98.00,296.21 L98.50,301.80 L99.00,308.38 L99.50,315.65 L100.00,323.11 L100.50,330.43 L101.00,337.04 L101.50,341.41 L102.00,342.39 L102.50,339.67 L103.00,333.94 L103.50,326.60 L104.00,318.93 L104.50,311.20 L105.00,303.89 L105.50,297.44 L106.00,292.04 L106.50,287.76 L107.00,284.54 L107.50,282.23 L108.00,280.65 L108.50,279.62 L109.00,278.97 L109.50,278.57 L110.00,278.34 L110.50,278.21 L111.00,278.16 L111.50,278.20 L112.00,278.36 L112.50,278.76 L113.00,279.59 L113.50,281.09 L114.00,283.47 L114.50,287.85 L115.00,294.12 L115.50,300.71 L116.00,305.26 L116.50,305.73 L117.00,301.86 L117.50,295.47 L118.00,288.99 L118.50,284.12 L119.00,281.46 L119.50,279.80 L120.00,278.83 L120.50,278.34 L121.00,278.09 L121.50,277.97 L122.00,277.90 L122.50,277.85 L123.00,277.81 L123.50,277.77 L124.00,277.73 L124.50,277.69 L125.00,277.65 L125.50,277.60 L126.00,277.57 L126.50,277.53 L127.00,277.51 L127.50,277.49 L128.00,277.49 L128.50,277.49 L129.00,277.52 L129.50,277.57 L130.00,277.66 L130.50,277.84 L131.00,278.17 L131.50,278.72 L132.00,279.56 L132.50,280.65 L133.00,281.81 L133.50,282.84 L134.00,283.42 L134.50,283.27 L135.00,282.54 L135.50,281.58 L136.00,280.68 L136.50,280.07 L137.00,279.94 L137.50,280.31 L138.00,281.14 L138.50,282.25 L139.00,283.38 L139.50,284.19 L140.00,284.45 L140.50,284.09 L141.00,283.26 L141.50,282.24 L142.00,281.34 L142.50,280.81 L143.00,280.77 L143.50,281.33 L144.00,282.61 L144.50,284.79 L145.00,288.09 L145.50,292.68 L146.00,298.60 L146.50,305.65 L147.00,314.16 L147.50,323.12 L148.00,330.45 L148.50,333.98 L149.00,332.51 L149.50,326.57 L150.00,318.11 L150.50,309.28 L151.00,301.81 L151.50,295.52 L152.00,290.49 L152.50,286.78 L153.00,284.24 L153.50,282.62 L154.00,281.66 L154.50,281.15 L155.00,280.90 L155.50,280.80 L156.00,280.79 L156.50,280.83 L157.00,280.92 L157.50,281.09 L158.00,281.41 L158.50,281.96 L159.00,282.88 L159.50,284.33 L160.00,286.48 L160.50,289.51 L161.00,293.54 L161.50,298.62 L162.00,304.66 L162.50,311.38 L163.00,318.87 L163.50,326.87 L164.00,333.68 L164.50,337.46 L165.00,336.96 L165.50,332.34 L166.00,325.05 L166.50,316.93 L167.00,309.63 L167.50,303.17 L168.00,297.84 L168.50,294.15 L169.00,292.26 L169.50,291.96 L170.00,292.70 L170.50,293.29 L171.00,292.49 L171.50,290.03 L172.00,286.73 L172.50,283.61 L173.00,281.13 L173.50,279.45 L174.00,278.50 L174.50,278.00 L175.00,277.74 L175.50,277.58 L176.00,277.47 L176.50,277.37 L177.00,277.29 L177.50,277.22 L178.00,277.17 L178.50,277.12 L179.00,277.09 L179.50,277.07 L180.00,277.07 L180.50,277.09 L181.00,277.16 L181.50,277.30 L182.00,277.53 L182.50,277.90 L183.00,278.46 L183.50,279.29 L184.00,280.45 L184.50,281.99 L185.00,283.95 L185.50,286.30 L186.00,288.98 L186.50,291.77 L187.00,294.40 L187.50,296.65 L188.00,298.05 L188.50,298.12 L189.00,296.94 L189.50,295.02 L190.00,292.76 L190.50,290.36 L191.00,288.11 L191.50,286.18 L192.00,284.60 L192.50,283.38 L193.00,282.47 L193.50,281.82 L194.00,281.34 L194.50,280.98 L195.00,280.69 L195.50,280.43 L196.00,280.19 L196.50,279.94 L197.00,279.70 L197.50,279.46 L198.00,279.21 L198.50,278.97 L199.00,278.74 L199.50,278.51 L200.00,278.30 L200.50,278.10 L201.00,277.92 L201.50,277.76 L202.00,277.63 L202.50,277.52 L203.00,277.43 L203.50,277.36 L204.00,277.31 L204.50,277.27 L205.00,277.25 L205.50,277.22 L206.00,277.21 L206.50,277.19 L207.00,277.18 L207.50,277.16 L208.00,277.15 L208.50,277.14 L209.00,277.13 L209.50,277.12 L210.00,277.10 L210.50,277.09 L211.00,277.08 L211.50,277.07 L212.00,277.06 L212.50,277.05 L213.00,277.03 L213.50,277.02 L214.00,277.01 L214.50,277.00 L215.00,276.99 L215.50,276.97 L216.00,276.96 L216.50,276.95 L217.00,276.94 L217.50,276.93 L218.00,276.91 L218.50,276.90 L219.00,276.89 L219.50,276.88 L220.00,276.88 L220.50,276.88 L221.00,276.91 L221.50,276.97 L222.00,277.10 L222.50,277.37 L223.00,277.86 L223.50,278.71 L224.00,280.08 L224.50,282.19 L225.00,285.22 L225.50,289.34 L226.00,294.61 L226.50,300.95 L227.00,308.01 L227.50,315.81 L228.00,323.81 L228.50,330.18 L229.00,333.21 L229.50,331.91 L230.00,326.72 L230.50,319.19 L231.00,311.15 L231.50,303.87 L232.00,297.23 L232.50,291.54 L233.00,286.99 L233.50,283.57 L234.00,281.14 L234.50,279.52 L235.00,278.51 L235.50,277.91 L236.00,277.58 L236.50,277.40 L237.00,277.31 L237.50,277.27 L238.00,277.24 L238.50,277.22 L239.00,277.21 L239.50,277.19 L240.00,277.17 L240.50,277.15 L241.00,277.13 L241.50,277.11 L242.00,277.09 L242.50,277.07 L243.00,277.05 L243.50,277.03 L244.00,277.01 L244.50,277.00 L245.00,276.99 L245.50,277.00 L246.00,277.03 L246.50,277.08 L247.00,277.16 L247.50,277.28 L248.00,277.45 L248.50,277.67 L249.00,277.93 L249.50,278.24 L250.00,278.58 L250.50,278.94 L251.00,279.33 L251.50,279.73 L252.00,280.14 L252.50,280.59 L253.00,281.11 L253.50,281.74 L254.00,282.52 L254.50,283.50 L255.00,284.67 L255.50,285.95 L256.00,287.23 L256.50,288.34 L257.00,289.13 L257.50,289.49 L258.00,289.44 L258.50,289.07 L259.00,288.55 L259.50,288.05 L260.00,287.69 L260.50,287.52 L261.00,287.49 L261.50,287.51 L262.00,287.49 L262.50,287.32 L263.00,286.97 L263.50,286.41 L264.00,285.68 L264.50,284.84 L265.00,283.94 L265.50,283.04 L266.00,282.17 L266.50,281.38 L267.00,280.67 L267.50,280.05 L268.00,279.53 L268.50,279.09 L269.00,278.75 L269.50,278.49 L270.00,278.30 L270.50,278.16 L271.00,278.06 L271.50,278.00 L272.00,277.95 L272.50,277.92 L273.00,277.90 L273.50,277.89 L274.00,277.87 L274.50,277.86 L275.00,277.85 L275.50,277.84 L276.00,277.83 L276.50,277.82 L277.00,277.81 L277.50,277.80 L278.00,277.78 L278.50,277.77 L279.00,277.77 L279.50,277.76 L280.00,277.77 L280.50,277.80 L281.00,277.87 L281.50,278.00 L282.00,278.21 L282.50,278.49 L283.00,278.81 L283.50,279.10 L284.00,279.27 L284.50,279.28 L285.00,279.11 L285.50,278.82 L286.00,278.48 L286.50,278.16 L287.00,277.91 L287.50,277.75 L288.00,277.64 L288.50,277.59 L289.00,277.55 L289.50,277.54 L290.00,277.52 L290.50,277.51 L291.00,277.50 L291.50,277.49 L292.00,277.48 L292.50,277.47 L293.00,277.46 L293.50,277.46 L294.00,277.48 L294.50,277.53 L295.00,277.63 L295.50,277.80 L296.00,278.04 L296.50,278.31 L297.00,278.57 L297.50,278.75 L298.00,278.80 L298.50,278.68 L299.00,278.46 L299.50,278.17 L300.00,277.91 L300.50,277.70 L301.00,277.56 L301.50,277.49 L302.00,277.47 L302.50,277.47 L303.00,277.49 L303.50,277.51 L304.00,277.54 L304.50,277.57 L305.00,277.60 L305.50,277.63 L306.00,277.66 L306.50,277.69 L307.00,277.72 L307.50,277.74 L308.00,277.77 L308.50,277.79 L309.00,277.82 L309.50,277.84 L310.00,277.85 L310.50,277.87 L311.00,277.88 L311.50,277.89 L312.00,277.89 L312.50,277.90 L313.00,277.92 L313.50,277.95 L314.00,278.02 L314.50,278.14 L315.00,278.33 L315.50,278.58 L316.00,278.86 L316.50,279.11 L317.00,279.27 L317.50,279.29 L318.00,279.16 L318.50,278.92 L319.00,278.64 L319.50,278.38 L320.00,278.18 L320.50,278.05 L321.00,277.99 L321.50,277.97 L322.00,278.00 L322.50,278.06 L323.00,278.17 L323.50,278.34 L324.00,278.58 L324.50,278.89 L325.00,279.25 L325.50,279.62 L326.00,279.98 L326.50,280.28 L327.00,280.46 L327.50,280.52 L328.00,280.46 L328.50,280.32 L329.00,280.16 L329.50,280.07 L330.00,280.15 L330.50,280.52 L331.00,281.31 L331.50,282.69 L332.00,284.81 L332.50,287.86 L333.00,291.95 L333.50,297.14 L334.00,303.37 L334.50,310.44 L335.00,317.94 L335.50,325.51 L336.00,332.91 L336.50,338.69 L337.00,341.41 L337.50,340.32 L338.00,335.76 L338.50,328.95 L339.00,321.48 L339.50,314.08 L340.00,306.89 L340.50,300.39 L341.00,294.85 L341.50,290.35 L342.00,286.89 L342.50,284.33 L343.00,282.51 L343.50,281.26 L344.00,280.42 L344.50,279.87 L345.00,279.57 L345.50,279.49 L346.00,279.64 L346.50,280.04 L347.00,280.70 L347.50,281.56 L348.00,282.51 L348.50,283.38 L349.00,283.99 L349.50,284.20 L350.00,283.95 L350.50,283.30 L351.00,282.36 L351.50,281.33 L352.00,280.35 L352.50,279.54 L353.00,278.93 L353.50,278.53 L354.00,278.28 L354.50,278.14 L355.00,278.08 L355.50,278.06 L356.00,278.06 L356.50,278.11 L357.00,278.24 L357.50,278.54 L358.00,279.12 L358.50,279.99 L359.00,281.17 L359.50,282.51 L360.00,283.28 L360.50,283.00 L361.00,281.90 L361.50,280.69 L362.00,279.79 L362.50,279.16 L363.00,278.81 L363.50,278.69 L364.00,278.69 L364.50,278.81 L365.00,279.11 L365.50,279.74 L366.00,280.93 L366.50,282.85 L367.00,286.54 L367.50,292.02 L368.00,297.86 L368.50,301.89 L369.00,302.23 L369.50,298.66 L370.00,292.85 L370.50,287.01 L371.00,282.74 L371.50,280.47 L372.00,279.04 L372.50,278.24 L373.00,277.83 L373.50,277.65 L374.00,277.59 L374.50,277.58 L375.00,277.61 L375.50,277.66 L376.00,277.73 L376.50,277.82 L377.00,277.94 L377.50,278.10 L378.00,278.31 L378.50,278.58 L379.00,278.90 L379.50,279.27 L380.00,279.66 L380.50,280.01 L381.00,280.29 L381.50,280.47 L382.00,280.51 L382.50,280.42 L383.00,280.22 L383.50,279.94 L384.00,279.64 L384.50,279.34 L385.00,279.08 L385.50,278.85 L386.00,278.66 L386.50,278.51 L387.00,278.38 L387.50,278.26 L388.00,278.16 L388.50,278.05 L389.00,277.95 L389.50,277.86 L390.00,277.76 L390.50,277.68 L391.00,277.60 L391.50,277.53 L392.00,277.47 L392.50,277.42 L393.00,277.38 L393.50,277.36 L394.00,277.34 L394.50,277.32 L395.00,277.31 L395.50,277.31 L396.00,277.30 L396.50,277.30 L397.00,277.30 L397.50,277.30 L398.00,277.30 L398.50,277.31 L399.00,277.31 L399.50,277.33 L400.00,277.36 L400.50,277.42 L401.00,277.53 L401.50,277.71 L402.00,277.98 L402.50,278.40 L403.00,278.97 L403.50,279.72 L404.00,280.67 L404.50,281.79 L405.00,283.04 L405.50,284.26 L406.00,285.27 L406.50,285.92 L407.00,285.98 L407.50,285.44 L408.00,284.48 L408.50,283.29 L409.00,282.04 L409.50,280.88 L410.00,279.91 L410.50,279.12 L411.00,278.52 L411.50,278.08 L412.00,277.79 L412.50,277.61 L413.00,277.51 L413.50,277.46 L414.00,277.44 L414.50,277.45 L415.00,277.46 L415.50,277.49 L416.00,277.51 L416.50,277.54 L417.00,277.56 L417.50,277.59 L418.00,277.62 L418.50,277.64 L419.00,277.67 L419.50,277.70 L420.00,277.73 L420.50,277.75 L421.00,277.78 L421.50,277.81 L422.00,277.83 L422.50,277.86 L423.00,277.90 L423.50,277.96 L424.00,278.07 L424.50,278.34 L425.00,278.87 L425.50,279.75 L426.00,281.03 L426.50,282.94 L427.00,284.94 L427.50,285.97 L428.00,285.51 L428.50,283.81 L429.00,281.74 L429.50,280.24 L430.00,279.23 L430.50,278.60 L431.00,278.33 L431.50,278.34 L432.00,278.59 L432.50,279.16 L433.00,280.22 L433.50,281.97 L434.00,284.65 L434.50,289.44 L435.00,295.76 L435.50,301.98 L436.00,305.74 L436.50,305.29 L437.00,300.85 L437.50,294.44 L438.00,288.31 L438.50,283.98 L439.00,281.55 L439.50,279.94 L440.00,278.98 L440.50,278.46 L441.00,278.18 L441.50,278.04 L442.00,277.96 L442.50,277.93 L443.00,277.90 L443.50,277.88 L444.00,277.86 L444.50,277.85 L445.00,277.85 L445.50,277.86 L446.00,277.91 L446.50,278.01 L447.00,278.19 L447.50,278.47 L448.00,278.88 L448.50,279.41 L449.00,280.04 L449.50,280.73 L450.00,281.37 L450.50,281.88 L451.00,282.16 L451.50,282.17 L452.00,281.89 L452.50,281.38 L453.00,280.72 L453.50,280.00 L454.00,279.31 L454.50,278.72 L455.00,278.26 L455.50,277.94 L456.00,277.73 L456.50,277.61 L457.00,277.56 L457.50,277.56 L458.00,277.59 L458.50,277.64 L459.00,277.70 L459.50,277.77 L460.00,277.84 L460.50,277.92 L461.00,278.01 L461.50,278.11 L462.00,278.25 L462.50,278.44 L463.00,278.73 L463.50,279.16 L464.00,279.78 L464.50,280.58 L465.00,281.53 L465.50,282.52 L466.00,283.39 L466.50,283.99 L467.00,284.28 L467.50,284.31 L468.00,284.30 L468.50,284.60 L469.00,285.60 L469.50,287.68 L470.00,291.11 L470.50,295.98 L471.00,302.11 L471.50,308.98 L472.00,316.24 L472.50,322.81 L473.00,326.89 L473.50,327.28 L474.00,323.86 L474.50,317.64 L475.00,310.32 L475.50,303.24 L476.00,296.69 L476.50,291.16 L477.00,286.87 L477.50,283.76 L478.00,281.62 L478.50,280.22 L479.00,279.31 L479.50,278.73 L480.00,278.32 L480.50,278.01 L481.00,277.78 L481.50,277.58 L482.00,277.43 L482.50,277.31 L483.00,277.24 L483.50,277.19 L484.00,277.18 L484.50,277.19 L485.00,277.21 L485.50,277.25 L486.00,277.30 L486.50,277.36 L487.00,277.42 L487.50,277.48 L488.00,277.54 L488.50,277.61 L489.00,277.68 L489.50,277.75 L490.00,277.83 L490.50,277.92 L491.00,278.02 L491.50,278.12 L492.00,278.25 L492.50,278.38 L493.00,278.53 L493.50,278.68 L494.00,278.86 L494.50,279.05 L495.00,279.27 L495.50,279.55 L496.00,279.93 L496.50,280.49 L497.00,281.33 L497.50,282.57 L498.00,284.35 L498.50,286.79 L499.00,289.98 L499.50,293.81 L500.00,298.15 L500.50,303.13 L501.00,307.66 L501.50,310.30 L502.00,310.18 L502.50,307.39 L503.00,302.96 L503.50,298.36 L504.00,294.40 L504.50,290.90 L505.00,288.04 L505.50,285.87 L506.00,284.30 L506.50,283.20 L507.00,282.45 L507.50,281.95" stroke="#0000ff" stroke-width="1.0" opacity="0.62"/>
<path d="M507.6,275V289.8" stroke="#0000ff" stroke-width="1.0" opacity="0.62"/>
</g>
<rect x="42.5" y="266.5" width="482.30" height="103" fill="none" stroke="#1c1c1c" stroke-width="1.05"/>
<path d="M42.50,369.5v-5M42.50,266.5v5M69.29,369.5v-7.5M69.29,266.5v7.5M96.09,369.5v-5M96.09,266.5v5M122.88,369.5v-5M122.88,266.5v5M149.68,369.5v-5M149.68,266.5v5M176.47,369.5v-5M176.47,266.5v5M203.27,369.5v-7.5M203.27,266.5v7.5M230.06,369.5v-5M230.06,266.5v5M256.86,369.5v-5M256.86,266.5v5M283.65,369.5v-5M283.65,266.5v5M310.44,369.5v-5M310.44,266.5v5M337.24,369.5v-7.5M337.24,266.5v7.5M364.03,369.5v-5M364.03,266.5v5M390.83,369.5v-5M390.83,266.5v5M417.62,369.5v-5M417.62,266.5v5M444.42,369.5v-5M444.42,266.5v5M471.21,369.5v-7.5M471.21,266.5v7.5M498.01,369.5v-5M498.01,266.5v5M524.80,369.5v-5M524.80,266.5v5M42.5,369.50h7.5M524.80,369.50h-7.5M42.5,360.15h4.8M524.80,360.15h-4.8M42.5,350.80h4.8M524.80,350.80h-4.8M42.5,341.45h4.8M524.80,341.45h-4.8M42.5,332.10h4.8M524.80,332.10h-4.8M42.5,322.75h7.5M524.80,322.75h-7.5M42.5,313.40h4.8M524.80,313.40h-4.8M42.5,304.05h4.8M524.80,304.05h-4.8M42.5,294.70h4.8M524.80,294.70h-4.8M42.5,285.35h4.8M524.80,285.35h-4.8M42.5,276.00h7.5M524.80,276.00h-7.5M42.5,266.65h4.8M524.80,266.65h-4.8" stroke="#222" stroke-width="1" fill="none"/>
<text x="34.6" y="282.20" text-anchor="end" font-size="11">1.0</text>
<text x="34.6" y="328.95" text-anchor="end" font-size="11">0.5</text>
<text x="34.6" y="375.70" text-anchor="end" font-size="11">0.0</text>
<text x="67.29" y="387.80" text-anchor="middle" font-size="11">6255</text>
<text x="201.27" y="387.80" text-anchor="middle" font-size="11">6260</text>
<text x="335.24" y="387.80" text-anchor="middle" font-size="11">6265</text>
<text x="469.21" y="387.80" text-anchor="middle" font-size="11">6270</text>
<text x="0" y="304.70" font-size="13.6">F/F</text>
<text x="20.2" y="309.60" font-size="10.2">c</text>
<text x="91.5" y="320.1" text-anchor="middle" font-size="10">R</text>
<text x="117.0" y="320.1" text-anchor="middle" font-size="10">R</text>
<text x="337.6" y="355.9" text-anchor="middle" font-size="10">R</text>
<text x="369.8" y="316.2" text-anchor="middle" font-size="10">R</text>
<text x="474.6" y="342.9" text-anchor="middle" font-size="10">R</text>
<rect x="94.1" y="62.9" width="92.9" height="25.4" fill="#fff" stroke="#111" stroke-width="1.45"/>
<text x="100" y="79.5" font-size="13"><tspan font-family='"Liberation Serif", serif' font-size="15" stroke-width="0">β</tspan><tspan x="110.8">Her</tspan><tspan x="138.8" font-size="13.6">G7</tspan><tspan x="161.8" font-family='"Liberation Serif", serif' font-size="13.9" stroke-width="0.2" letter-spacing="-0.55">IIIa</tspan></text>
<text x="361" y="401.4" font-size="13.3">Wavelength, A</text>
</svg>
</div></body></html>
